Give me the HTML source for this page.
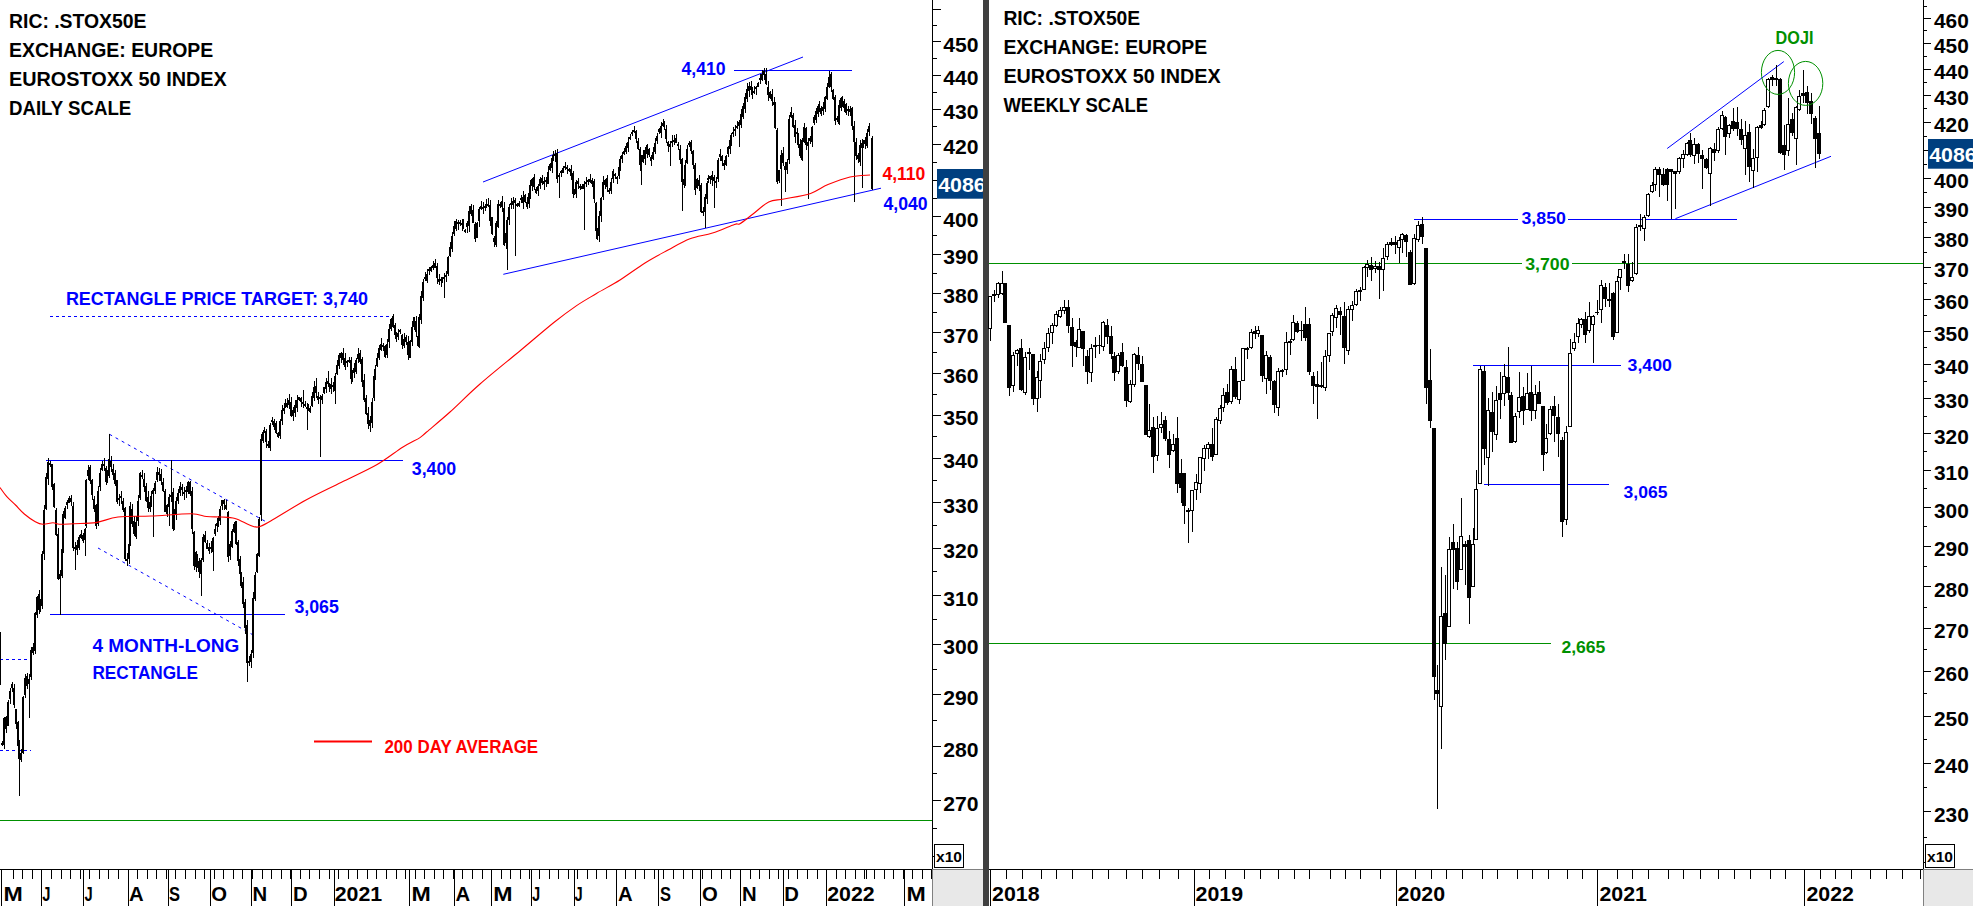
<!DOCTYPE html>
<html><head><meta charset="utf-8"><title>EUROSTOXX 50</title>
<style>html,body{margin:0;padding:0;background:#fff;overflow:hidden}svg{display:block}</style></head>
<body>
<svg width="1973" height="906" viewBox="0 0 1973 906" font-family='"Liberation Sans", sans-serif' font-weight="bold">
<rect x="0" y="0" width="1973" height="906" fill="#fff" />
<g shape-rendering="crispEdges">
<rect x="0" y="820" width="932" height="1" fill="#009000" />
<rect x="46" y="460" width="357" height="1" fill="#0000ff" />
<rect x="50" y="614" width="235" height="1" fill="#0000ff" />
<rect x="734" y="70" width="118" height="1" fill="#0000ff" />
</g>
<line x1="50" y1="316.5" x2="391" y2="316.5" stroke="#0000ff" stroke-width="1" stroke-dasharray="3 3"/>
<line x1="0" y1="659.5" x2="32" y2="659.5" stroke="#0000ff" stroke-width="1" stroke-dasharray="3 3"/>
<line x1="0" y1="750.5" x2="31" y2="750.5" stroke="#0000ff" stroke-width="1" stroke-dasharray="3 3"/>
<line x1="109.5" y1="434.3" x2="265" y2="521.2" stroke="#0000ff" stroke-width="1" stroke-dasharray="3 4"/>
<line x1="98" y1="548" x2="255" y2="636" stroke="#0000ff" stroke-width="1" stroke-dasharray="3 4"/>
<line x1="483" y1="182" x2="803" y2="57" stroke="#0000ff" stroke-width="1"/>
<line x1="503.3" y1="274.3" x2="881" y2="188.2" stroke="#0000ff" stroke-width="1"/>
<g shape-rendering="crispEdges" fill="#000">
<rect x="2" y="740.7" width="1" height="5.6"/>
<rect x="1" y="743.0" width="2" height="2.0"/>
<rect x="4" y="717.3" width="1" height="31.4"/>
<rect x="3" y="718.2" width="2" height="27.0"/>
<rect x="6" y="716.3" width="1" height="16.3"/>
<rect x="5" y="717.1" width="2" height="12.1"/>
<rect x="8" y="699.5" width="1" height="26.9"/>
<rect x="7" y="702.4" width="2" height="23.2"/>
<rect x="10" y="688.3" width="1" height="15.8"/>
<rect x="9" y="691.2" width="2" height="7.9"/>
<rect x="12" y="682.2" width="1" height="9.9"/>
<rect x="11" y="684.0" width="2" height="4.2"/>
<rect x="14" y="683.9" width="1" height="24.2"/>
<rect x="13" y="687.5" width="2" height="17.9"/>
<rect x="16" y="708.5" width="1" height="20.7"/>
<rect x="15" y="709.2" width="2" height="14.7"/>
<rect x="18" y="721.0" width="1" height="26.2"/>
<rect x="17" y="722.3" width="2" height="23.8"/>
<rect x="19" y="739.5" width="1" height="56.5"/>
<rect x="18" y="744.5" width="2" height="14.7"/>
<rect x="21" y="748.8" width="1" height="13.6"/>
<rect x="20" y="752.8" width="2" height="7.0"/>
<rect x="23" y="696.3" width="1" height="57.8"/>
<rect x="22" y="697.1" width="2" height="56.1"/>
<rect x="25" y="673.5" width="1" height="24.2"/>
<rect x="24" y="677.7" width="2" height="17.1"/>
<rect x="27" y="672.5" width="1" height="16.3"/>
<rect x="26" y="676.2" width="2" height="9.6"/>
<rect x="29" y="673.8" width="1" height="44.2"/>
<rect x="28" y="678.6" width="2" height="5.6"/>
<rect x="31" y="646.6" width="1" height="33.4"/>
<rect x="30" y="650.3" width="2" height="26.3"/>
<rect x="33" y="642.7" width="1" height="12.7"/>
<rect x="32" y="647.2" width="2" height="6.1"/>
<rect x="35" y="612.0" width="1" height="41.9"/>
<rect x="34" y="613.1" width="2" height="38.0"/>
<rect x="37" y="596.1" width="1" height="22.3"/>
<rect x="36" y="597.4" width="2" height="17.8"/>
<rect x="39" y="589.5" width="1" height="24.8"/>
<rect x="38" y="593.7" width="2" height="15.9"/>
<rect x="40" y="598.8" width="1" height="13.6"/>
<rect x="39" y="604.2" width="2" height="6.1"/>
<rect x="42" y="550.6" width="1" height="58.8"/>
<rect x="41" y="554.3" width="2" height="51.4"/>
<rect x="44" y="504.5" width="1" height="55.2"/>
<rect x="43" y="509.6" width="2" height="44.4"/>
<rect x="46" y="473.2" width="1" height="37.1"/>
<rect x="45" y="477.3" width="2" height="32.1"/>
<rect x="48" y="457.7" width="1" height="27.2"/>
<rect x="47" y="461.7" width="2" height="17.2"/>
<rect x="50" y="460.5" width="1" height="6.7"/>
<rect x="49" y="462.5" width="2" height="2.0"/>
<rect x="52" y="463.5" width="1" height="26.1"/>
<rect x="51" y="464.1" width="2" height="22.4"/>
<rect x="54" y="482.8" width="1" height="25.5"/>
<rect x="53" y="483.9" width="2" height="23.5"/>
<rect x="56" y="508.3" width="1" height="28.1"/>
<rect x="55" y="509.5" width="2" height="25.1"/>
<rect x="58" y="528.4" width="1" height="51.6"/>
<rect x="57" y="533.7" width="2" height="45.3"/>
<rect x="60" y="570.3" width="1" height="45.1"/>
<rect x="59" y="573.8" width="2" height="4.8"/>
<rect x="62" y="543.3" width="1" height="35.1"/>
<rect x="61" y="548.6" width="2" height="27.8"/>
<rect x="63" y="511.4" width="1" height="41.9"/>
<rect x="62" y="513.8" width="2" height="34.0"/>
<rect x="65" y="506.1" width="1" height="12.8"/>
<rect x="64" y="507.5" width="2" height="10.0"/>
<rect x="67" y="500.4" width="1" height="8.1"/>
<rect x="66" y="502.2" width="2" height="3.1"/>
<rect x="69" y="496.3" width="1" height="7.1"/>
<rect x="68" y="498.3" width="2" height="4.6"/>
<rect x="71" y="495.1" width="1" height="10.8"/>
<rect x="70" y="497.6" width="2" height="4.7"/>
<rect x="73" y="501.7" width="1" height="49.7"/>
<rect x="72" y="505.9" width="2" height="42.0"/>
<rect x="75" y="542.3" width="1" height="27.7"/>
<rect x="74" y="546.6" width="2" height="2.4"/>
<rect x="77" y="540.3" width="1" height="14.7"/>
<rect x="76" y="545.1" width="2" height="4.6"/>
<rect x="79" y="534.5" width="1" height="15.7"/>
<rect x="78" y="537.2" width="2" height="10.3"/>
<rect x="81" y="530.0" width="1" height="8.9"/>
<rect x="80" y="534.0" width="2" height="4.1"/>
<rect x="83" y="533.0" width="1" height="9.6"/>
<rect x="82" y="534.6" width="2" height="6.5"/>
<rect x="85" y="527.9" width="1" height="28.1"/>
<rect x="84" y="528.6" width="2" height="11.2"/>
<rect x="86" y="478.7" width="1" height="49.6"/>
<rect x="85" y="479.8" width="2" height="46.1"/>
<rect x="88" y="464.6" width="1" height="15.3"/>
<rect x="87" y="469.9" width="2" height="6.1"/>
<rect x="90" y="465.2" width="1" height="18.6"/>
<rect x="89" y="467.1" width="2" height="14.3"/>
<rect x="92" y="479.1" width="1" height="21.0"/>
<rect x="91" y="480.3" width="2" height="14.7"/>
<rect x="94" y="495.8" width="1" height="16.0"/>
<rect x="93" y="498.9" width="2" height="9.8"/>
<rect x="96" y="504.3" width="1" height="24.2"/>
<rect x="95" y="505.3" width="2" height="20.7"/>
<rect x="98" y="485.9" width="1" height="39.7"/>
<rect x="97" y="490.9" width="2" height="33.3"/>
<rect x="100" y="467.5" width="1" height="23.0"/>
<rect x="99" y="473.3" width="2" height="13.8"/>
<rect x="102" y="460.6" width="1" height="10.4"/>
<rect x="101" y="464.1" width="2" height="6.3"/>
<rect x="104" y="458.3" width="1" height="13.1"/>
<rect x="103" y="464.2" width="2" height="2.0"/>
<rect x="106" y="465.7" width="1" height="19.0"/>
<rect x="105" y="467.7" width="2" height="14.6"/>
<rect x="107" y="469.5" width="1" height="13.5"/>
<rect x="106" y="474.2" width="2" height="5.4"/>
<rect x="109" y="434.3" width="1" height="43.9"/>
<rect x="108" y="458.9" width="2" height="17.5"/>
<rect x="111" y="455.5" width="1" height="16.4"/>
<rect x="110" y="461.4" width="2" height="5.3"/>
<rect x="113" y="464.2" width="1" height="15.7"/>
<rect x="112" y="469.2" width="2" height="6.1"/>
<rect x="115" y="469.8" width="1" height="16.6"/>
<rect x="114" y="473.1" width="2" height="10.8"/>
<rect x="117" y="479.5" width="1" height="24.5"/>
<rect x="116" y="480.1" width="2" height="21.8"/>
<rect x="119" y="493.7" width="1" height="12.1"/>
<rect x="118" y="498.0" width="2" height="2.0"/>
<rect x="121" y="490.8" width="1" height="13.6"/>
<rect x="120" y="496.4" width="2" height="2.0"/>
<rect x="123" y="498.3" width="1" height="13.7"/>
<rect x="122" y="500.8" width="2" height="9.5"/>
<rect x="125" y="506.6" width="1" height="54.1"/>
<rect x="124" y="508.1" width="2" height="50.9"/>
<rect x="127" y="553.0" width="1" height="12.6"/>
<rect x="126" y="558.5" width="2" height="2.0"/>
<rect x="129" y="540.2" width="1" height="23.6"/>
<rect x="128" y="544.2" width="2" height="14.6"/>
<rect x="130" y="502.2" width="1" height="44.2"/>
<rect x="129" y="506.3" width="2" height="34.6"/>
<rect x="132" y="504.0" width="1" height="22.9"/>
<rect x="131" y="508.6" width="2" height="15.2"/>
<rect x="134" y="516.4" width="1" height="20.0"/>
<rect x="133" y="521.2" width="2" height="12.9"/>
<rect x="136" y="516.3" width="1" height="22.9"/>
<rect x="135" y="522.1" width="2" height="14.4"/>
<rect x="138" y="495.4" width="1" height="30.5"/>
<rect x="137" y="501.1" width="2" height="20.3"/>
<rect x="140" y="472.0" width="1" height="27.8"/>
<rect x="139" y="473.2" width="2" height="25.2"/>
<rect x="142" y="470.4" width="1" height="8.2"/>
<rect x="141" y="475.4" width="2" height="2.0"/>
<rect x="144" y="473.0" width="1" height="18.5"/>
<rect x="143" y="478.9" width="2" height="8.5"/>
<rect x="146" y="482.7" width="1" height="19.1"/>
<rect x="145" y="486.2" width="2" height="14.3"/>
<rect x="148" y="490.8" width="1" height="21.6"/>
<rect x="147" y="496.7" width="2" height="11.7"/>
<rect x="150" y="496.7" width="1" height="14.8"/>
<rect x="149" y="502.3" width="2" height="6.3"/>
<rect x="151" y="491.2" width="1" height="15.8"/>
<rect x="150" y="496.2" width="2" height="9.1"/>
<rect x="153" y="488.0" width="1" height="49.0"/>
<rect x="152" y="490.1" width="2" height="4.1"/>
<rect x="155" y="480.7" width="1" height="13.0"/>
<rect x="154" y="482.6" width="2" height="8.2"/>
<rect x="157" y="466.5" width="1" height="15.6"/>
<rect x="156" y="472.0" width="2" height="7.6"/>
<rect x="159" y="468.0" width="1" height="12.6"/>
<rect x="158" y="471.7" width="2" height="3.4"/>
<rect x="161" y="468.9" width="1" height="15.7"/>
<rect x="160" y="474.4" width="2" height="6.9"/>
<rect x="163" y="478.2" width="1" height="13.6"/>
<rect x="162" y="481.6" width="2" height="9.6"/>
<rect x="165" y="489.2" width="1" height="23.2"/>
<rect x="164" y="490.7" width="2" height="21.2"/>
<rect x="167" y="503.9" width="1" height="13.4"/>
<rect x="166" y="505.3" width="2" height="8.9"/>
<rect x="169" y="493.6" width="1" height="32.4"/>
<rect x="168" y="497.2" width="2" height="10.0"/>
<rect x="171" y="459.7" width="1" height="42.4"/>
<rect x="170" y="494.6" width="2" height="2.7"/>
<rect x="173" y="487.9" width="1" height="42.8"/>
<rect x="172" y="491.5" width="2" height="37.4"/>
<rect x="174" y="509.0" width="1" height="21.3"/>
<rect x="173" y="513.8" width="2" height="13.3"/>
<rect x="176" y="496.5" width="1" height="23.3"/>
<rect x="175" y="501.2" width="2" height="13.1"/>
<rect x="178" y="489.3" width="1" height="14.7"/>
<rect x="177" y="493.2" width="2" height="7.6"/>
<rect x="180" y="482.1" width="1" height="14.2"/>
<rect x="179" y="486.4" width="2" height="6.9"/>
<rect x="182" y="483.5" width="1" height="12.4"/>
<rect x="181" y="486.7" width="2" height="3.6"/>
<rect x="184" y="486.5" width="1" height="13.2"/>
<rect x="183" y="491.8" width="2" height="2.2"/>
<rect x="186" y="486.0" width="1" height="11.8"/>
<rect x="185" y="489.6" width="2" height="2.6"/>
<rect x="188" y="481.2" width="1" height="12.3"/>
<rect x="187" y="482.4" width="2" height="9.9"/>
<rect x="190" y="481.0" width="1" height="15.0"/>
<rect x="189" y="481.9" width="2" height="12.3"/>
<rect x="192" y="486.6" width="1" height="47.4"/>
<rect x="191" y="490.8" width="2" height="38.4"/>
<rect x="194" y="531.1" width="1" height="39.0"/>
<rect x="193" y="532.4" width="2" height="33.2"/>
<rect x="196" y="550.8" width="1" height="21.5"/>
<rect x="195" y="552.1" width="2" height="14.9"/>
<rect x="197" y="554.1" width="1" height="13.5"/>
<rect x="196" y="555.8" width="2" height="6.0"/>
<rect x="199" y="557.9" width="1" height="19.7"/>
<rect x="198" y="561.0" width="2" height="10.6"/>
<rect x="201" y="558.4" width="1" height="37.1"/>
<rect x="200" y="559.8" width="2" height="14.5"/>
<rect x="203" y="534.2" width="1" height="27.3"/>
<rect x="202" y="536.6" width="2" height="23.3"/>
<rect x="205" y="530.7" width="1" height="12.0"/>
<rect x="204" y="535.1" width="2" height="6.9"/>
<rect x="207" y="539.5" width="1" height="9.5"/>
<rect x="206" y="542.5" width="2" height="6.0"/>
<rect x="209" y="543.2" width="1" height="10.8"/>
<rect x="208" y="547.1" width="2" height="3.6"/>
<rect x="211" y="540.6" width="1" height="12.8"/>
<rect x="210" y="546.5" width="2" height="2.0"/>
<rect x="213" y="536.9" width="1" height="34.1"/>
<rect x="212" y="538.0" width="2" height="13.6"/>
<rect x="215" y="524.2" width="1" height="12.1"/>
<rect x="214" y="529.0" width="2" height="5.3"/>
<rect x="217" y="520.5" width="1" height="11.0"/>
<rect x="216" y="523.3" width="2" height="2.7"/>
<rect x="218" y="515.7" width="1" height="11.5"/>
<rect x="217" y="517.6" width="2" height="8.2"/>
<rect x="220" y="505.6" width="1" height="19.8"/>
<rect x="219" y="509.2" width="2" height="11.8"/>
<rect x="222" y="499.6" width="1" height="10.6"/>
<rect x="221" y="500.4" width="2" height="5.5"/>
<rect x="224" y="498.9" width="1" height="10.8"/>
<rect x="223" y="499.8" width="2" height="4.2"/>
<rect x="226" y="500.2" width="1" height="9.8"/>
<rect x="225" y="505.1" width="2" height="3.9"/>
<rect x="228" y="511.0" width="1" height="50.9"/>
<rect x="227" y="511.9" width="2" height="44.7"/>
<rect x="230" y="541.3" width="1" height="18.6"/>
<rect x="229" y="543.6" width="2" height="12.6"/>
<rect x="232" y="529.3" width="1" height="19.0"/>
<rect x="231" y="531.3" width="2" height="15.8"/>
<rect x="234" y="522.2" width="1" height="10.4"/>
<rect x="233" y="524.0" width="2" height="7.5"/>
<rect x="236" y="520.5" width="1" height="24.8"/>
<rect x="235" y="521.3" width="2" height="22.4"/>
<rect x="238" y="540.0" width="1" height="25.7"/>
<rect x="237" y="542.2" width="2" height="18.8"/>
<rect x="240" y="556.1" width="1" height="18.8"/>
<rect x="239" y="559.4" width="2" height="14.1"/>
<rect x="241" y="571.6" width="1" height="16.1"/>
<rect x="240" y="572.2" width="2" height="13.6"/>
<rect x="243" y="577.4" width="1" height="30.1"/>
<rect x="242" y="582.0" width="2" height="22.1"/>
<rect x="245" y="598.5" width="1" height="35.6"/>
<rect x="244" y="601.6" width="2" height="26.8"/>
<rect x="247" y="620.2" width="1" height="61.8"/>
<rect x="246" y="625.2" width="2" height="37.3"/>
<rect x="249" y="656.2" width="1" height="9.8"/>
<rect x="248" y="661.3" width="2" height="2.0"/>
<rect x="251" y="650.1" width="1" height="17.9"/>
<rect x="250" y="654.4" width="2" height="7.7"/>
<rect x="253" y="592.4" width="1" height="65.1"/>
<rect x="252" y="597.5" width="2" height="55.7"/>
<rect x="255" y="572.4" width="1" height="28.5"/>
<rect x="254" y="575.2" width="2" height="23.4"/>
<rect x="257" y="552.6" width="1" height="19.9"/>
<rect x="256" y="553.8" width="2" height="17.8"/>
<rect x="259" y="516.7" width="1" height="40.4"/>
<rect x="258" y="518.6" width="2" height="37.1"/>
<rect x="261" y="434.2" width="1" height="86.4"/>
<rect x="260" y="439.4" width="2" height="75.9"/>
<rect x="263" y="429.6" width="1" height="13.0"/>
<rect x="262" y="431.6" width="2" height="9.1"/>
<rect x="264" y="426.5" width="1" height="6.4"/>
<rect x="263" y="429.6" width="2" height="2.0"/>
<rect x="266" y="428.7" width="1" height="19.2"/>
<rect x="265" y="430.7" width="2" height="11.4"/>
<rect x="268" y="440.7" width="1" height="7.4"/>
<rect x="267" y="444.2" width="2" height="2.0"/>
<rect x="270" y="423.2" width="1" height="27.5"/>
<rect x="269" y="425.4" width="2" height="22.9"/>
<rect x="272" y="417.4" width="1" height="7.7"/>
<rect x="271" y="420.0" width="2" height="2.0"/>
<rect x="274" y="419.0" width="1" height="11.2"/>
<rect x="273" y="420.6" width="2" height="6.4"/>
<rect x="276" y="421.0" width="1" height="13.3"/>
<rect x="275" y="423.0" width="2" height="10.3"/>
<rect x="278" y="431.8" width="1" height="6.0"/>
<rect x="277" y="432.5" width="2" height="4.6"/>
<rect x="280" y="419.1" width="1" height="20.3"/>
<rect x="279" y="420.8" width="2" height="14.8"/>
<rect x="282" y="405.1" width="1" height="20.1"/>
<rect x="281" y="409.7" width="2" height="11.4"/>
<rect x="284" y="402.8" width="1" height="11.2"/>
<rect x="283" y="408.2" width="2" height="3.2"/>
<rect x="285" y="399.1" width="1" height="9.2"/>
<rect x="284" y="405.0" width="2" height="2.0"/>
<rect x="287" y="398.4" width="1" height="9.4"/>
<rect x="286" y="402.5" width="2" height="4.6"/>
<rect x="289" y="394.2" width="1" height="14.9"/>
<rect x="288" y="399.6" width="2" height="5.5"/>
<rect x="291" y="396.5" width="1" height="20.6"/>
<rect x="290" y="401.5" width="2" height="14.4"/>
<rect x="293" y="407.1" width="1" height="14.0"/>
<rect x="292" y="410.4" width="2" height="5.6"/>
<rect x="295" y="399.9" width="1" height="16.6"/>
<rect x="294" y="405.0" width="2" height="7.9"/>
<rect x="297" y="395.3" width="1" height="17.1"/>
<rect x="296" y="399.5" width="2" height="8.6"/>
<rect x="299" y="396.7" width="1" height="4.0"/>
<rect x="298" y="397.4" width="2" height="2.1"/>
<rect x="301" y="397.3" width="1" height="9.3"/>
<rect x="300" y="398.4" width="2" height="3.2"/>
<rect x="303" y="390.4" width="1" height="17.3"/>
<rect x="302" y="401.8" width="2" height="2.0"/>
<rect x="305" y="401.2" width="1" height="5.7"/>
<rect x="304" y="404.4" width="2" height="2.0"/>
<rect x="307" y="402.5" width="1" height="27.5"/>
<rect x="306" y="407.2" width="2" height="2.0"/>
<rect x="308" y="404.3" width="1" height="7.1"/>
<rect x="307" y="408.4" width="2" height="2.1"/>
<rect x="310" y="405.7" width="1" height="7.7"/>
<rect x="309" y="407.5" width="2" height="4.9"/>
<rect x="312" y="391.7" width="1" height="15.6"/>
<rect x="311" y="396.2" width="2" height="9.4"/>
<rect x="314" y="380.8" width="1" height="20.6"/>
<rect x="313" y="386.6" width="2" height="11.5"/>
<rect x="316" y="378.0" width="1" height="19.6"/>
<rect x="315" y="385.7" width="2" height="7.6"/>
<rect x="318" y="391.6" width="1" height="12.4"/>
<rect x="317" y="395.5" width="2" height="4.5"/>
<rect x="320" y="395.2" width="1" height="61.4"/>
<rect x="319" y="396.5" width="2" height="2.0"/>
<rect x="322" y="394.2" width="1" height="9.8"/>
<rect x="321" y="396.4" width="2" height="4.0"/>
<rect x="324" y="386.5" width="1" height="7.9"/>
<rect x="323" y="387.4" width="2" height="5.1"/>
<rect x="326" y="377.9" width="1" height="15.0"/>
<rect x="325" y="382.2" width="2" height="6.5"/>
<rect x="328" y="370.5" width="1" height="16.9"/>
<rect x="327" y="380.6" width="2" height="3.8"/>
<rect x="329" y="382.9" width="1" height="8.9"/>
<rect x="328" y="384.0" width="2" height="2.4"/>
<rect x="331" y="378.1" width="1" height="16.0"/>
<rect x="330" y="384.0" width="2" height="4.5"/>
<rect x="333" y="381.6" width="1" height="10.4"/>
<rect x="332" y="384.6" width="2" height="2.4"/>
<rect x="335" y="373.1" width="1" height="30.5"/>
<rect x="334" y="376.1" width="2" height="14.7"/>
<rect x="337" y="359.5" width="1" height="15.9"/>
<rect x="336" y="365.2" width="2" height="8.6"/>
<rect x="339" y="353.4" width="1" height="15.8"/>
<rect x="338" y="354.6" width="2" height="11.2"/>
<rect x="341" y="351.9" width="1" height="11.4"/>
<rect x="340" y="353.1" width="2" height="5.2"/>
<rect x="343" y="347.8" width="1" height="16.8"/>
<rect x="342" y="353.2" width="2" height="7.0"/>
<rect x="345" y="352.6" width="1" height="17.8"/>
<rect x="344" y="358.1" width="2" height="9.2"/>
<rect x="347" y="360.0" width="1" height="6.7"/>
<rect x="346" y="360.5" width="2" height="2.9"/>
<rect x="349" y="357.3" width="1" height="5.4"/>
<rect x="348" y="359.5" width="2" height="2.0"/>
<rect x="351" y="357.3" width="1" height="26.2"/>
<rect x="350" y="359.6" width="2" height="18.9"/>
<rect x="352" y="369.8" width="1" height="11.7"/>
<rect x="351" y="374.4" width="2" height="2.0"/>
<rect x="354" y="362.6" width="1" height="15.1"/>
<rect x="353" y="368.2" width="2" height="5.1"/>
<rect x="356" y="358.0" width="1" height="16.0"/>
<rect x="355" y="360.1" width="2" height="11.4"/>
<rect x="358" y="347.7" width="1" height="15.3"/>
<rect x="357" y="353.7" width="2" height="5.5"/>
<rect x="360" y="349.7" width="1" height="14.4"/>
<rect x="359" y="352.6" width="2" height="9.5"/>
<rect x="362" y="357.4" width="1" height="29.1"/>
<rect x="361" y="358.5" width="2" height="23.0"/>
<rect x="364" y="374.1" width="1" height="27.5"/>
<rect x="363" y="379.8" width="2" height="19.9"/>
<rect x="366" y="394.5" width="1" height="20.5"/>
<rect x="365" y="397.8" width="2" height="15.7"/>
<rect x="368" y="406.7" width="1" height="22.4"/>
<rect x="367" y="412.5" width="2" height="11.3"/>
<rect x="370" y="415.8" width="1" height="16.0"/>
<rect x="369" y="419.8" width="2" height="6.5"/>
<rect x="372" y="398.2" width="1" height="29.5"/>
<rect x="371" y="401.7" width="2" height="21.5"/>
<rect x="374" y="371.1" width="1" height="30.0"/>
<rect x="373" y="375.6" width="2" height="22.5"/>
<rect x="375" y="365.2" width="1" height="14.5"/>
<rect x="374" y="369.2" width="2" height="8.4"/>
<rect x="377" y="352.8" width="1" height="14.1"/>
<rect x="376" y="358.4" width="2" height="7.3"/>
<rect x="379" y="345.2" width="1" height="15.1"/>
<rect x="378" y="347.6" width="2" height="10.6"/>
<rect x="381" y="338.4" width="1" height="13.0"/>
<rect x="380" y="344.3" width="2" height="5.2"/>
<rect x="383" y="343.0" width="1" height="7.7"/>
<rect x="382" y="345.2" width="2" height="2.0"/>
<rect x="385" y="344.6" width="1" height="13.6"/>
<rect x="384" y="346.0" width="2" height="10.8"/>
<rect x="387" y="338.5" width="1" height="19.2"/>
<rect x="386" y="344.0" width="2" height="10.5"/>
<rect x="389" y="323.8" width="1" height="23.9"/>
<rect x="388" y="329.3" width="2" height="12.4"/>
<rect x="391" y="318.2" width="1" height="12.3"/>
<rect x="390" y="319.4" width="2" height="9.5"/>
<rect x="393" y="313.8" width="1" height="14.4"/>
<rect x="392" y="316.1" width="2" height="11.1"/>
<rect x="395" y="323.2" width="1" height="15.4"/>
<rect x="394" y="325.1" width="2" height="9.9"/>
<rect x="396" y="332.2" width="1" height="9.4"/>
<rect x="395" y="336.8" width="2" height="2.0"/>
<rect x="398" y="329.3" width="1" height="10.2"/>
<rect x="397" y="332.7" width="2" height="4.2"/>
<rect x="400" y="329.3" width="1" height="4.9"/>
<rect x="399" y="330.2" width="2" height="2.0"/>
<rect x="402" y="333.5" width="1" height="15.0"/>
<rect x="401" y="334.7" width="2" height="10.6"/>
<rect x="404" y="333.4" width="1" height="14.6"/>
<rect x="403" y="338.6" width="2" height="7.6"/>
<rect x="406" y="334.9" width="1" height="10.1"/>
<rect x="405" y="336.8" width="2" height="5.5"/>
<rect x="408" y="336.2" width="1" height="23.6"/>
<rect x="407" y="341.9" width="2" height="12.7"/>
<rect x="410" y="340.1" width="1" height="18.2"/>
<rect x="409" y="340.7" width="2" height="16.9"/>
<rect x="412" y="321.3" width="1" height="24.2"/>
<rect x="411" y="326.7" width="2" height="15.6"/>
<rect x="414" y="316.8" width="1" height="13.2"/>
<rect x="413" y="317.3" width="2" height="10.1"/>
<rect x="416" y="315.7" width="1" height="21.2"/>
<rect x="415" y="320.7" width="2" height="10.9"/>
<rect x="418" y="333.6" width="1" height="13.5"/>
<rect x="417" y="335.5" width="2" height="10.6"/>
<rect x="419" y="313.5" width="1" height="34.1"/>
<rect x="418" y="316.8" width="2" height="26.4"/>
<rect x="421" y="291.1" width="1" height="33.3"/>
<rect x="420" y="295.6" width="2" height="24.8"/>
<rect x="423" y="278.9" width="1" height="22.4"/>
<rect x="422" y="281.9" width="2" height="15.8"/>
<rect x="425" y="272.1" width="1" height="8.6"/>
<rect x="424" y="276.9" width="2" height="2.0"/>
<rect x="427" y="269.4" width="1" height="13.8"/>
<rect x="426" y="273.5" width="2" height="7.6"/>
<rect x="429" y="267.2" width="1" height="7.9"/>
<rect x="428" y="269.1" width="2" height="2.0"/>
<rect x="431" y="266.2" width="1" height="5.9"/>
<rect x="430" y="267.3" width="2" height="3.9"/>
<rect x="433" y="261.4" width="1" height="8.8"/>
<rect x="432" y="265.1" width="2" height="2.5"/>
<rect x="435" y="259.0" width="1" height="9.3"/>
<rect x="434" y="262.9" width="2" height="4.9"/>
<rect x="437" y="263.2" width="1" height="20.7"/>
<rect x="436" y="266.2" width="2" height="11.9"/>
<rect x="439" y="273.9" width="1" height="10.9"/>
<rect x="438" y="279.2" width="2" height="2.4"/>
<rect x="441" y="277.0" width="1" height="9.6"/>
<rect x="440" y="278.9" width="2" height="2.0"/>
<rect x="442" y="276.6" width="1" height="5.9"/>
<rect x="441" y="278.8" width="2" height="3.1"/>
<rect x="444" y="272.9" width="1" height="25.1"/>
<rect x="443" y="277.1" width="2" height="2.0"/>
<rect x="446" y="270.5" width="1" height="11.8"/>
<rect x="445" y="274.7" width="2" height="2.0"/>
<rect x="448" y="255.8" width="1" height="20.2"/>
<rect x="447" y="256.5" width="2" height="17.2"/>
<rect x="450" y="242.2" width="1" height="15.2"/>
<rect x="449" y="246.5" width="2" height="9.4"/>
<rect x="452" y="231.9" width="1" height="20.3"/>
<rect x="451" y="236.4" width="2" height="12.4"/>
<rect x="454" y="220.5" width="1" height="15.8"/>
<rect x="453" y="226.4" width="2" height="7.7"/>
<rect x="456" y="219.4" width="1" height="11.3"/>
<rect x="455" y="221.1" width="2" height="7.8"/>
<rect x="458" y="219.7" width="1" height="9.9"/>
<rect x="457" y="221.8" width="2" height="2.0"/>
<rect x="460" y="220.4" width="1" height="5.3"/>
<rect x="459" y="222.0" width="2" height="2.0"/>
<rect x="462" y="218.7" width="1" height="11.9"/>
<rect x="461" y="222.9" width="2" height="2.0"/>
<rect x="463" y="219.4" width="1" height="10.0"/>
<rect x="462" y="222.0" width="2" height="5.7"/>
<rect x="465" y="228.8" width="1" height="4.1"/>
<rect x="464" y="230.1" width="2" height="2.0"/>
<rect x="467" y="220.6" width="1" height="12.0"/>
<rect x="466" y="223.3" width="2" height="3.9"/>
<rect x="469" y="206.3" width="1" height="26.0"/>
<rect x="468" y="210.9" width="2" height="15.5"/>
<rect x="471" y="204.1" width="1" height="11.7"/>
<rect x="470" y="206.4" width="2" height="7.9"/>
<rect x="473" y="205.3" width="1" height="18.1"/>
<rect x="472" y="209.9" width="2" height="12.8"/>
<rect x="475" y="221.5" width="1" height="20.1"/>
<rect x="474" y="224.0" width="2" height="15.0"/>
<rect x="477" y="221.6" width="1" height="16.6"/>
<rect x="476" y="223.0" width="2" height="14.7"/>
<rect x="479" y="207.0" width="1" height="20.0"/>
<rect x="478" y="209.4" width="2" height="11.8"/>
<rect x="481" y="200.6" width="1" height="9.7"/>
<rect x="480" y="206.4" width="2" height="2.3"/>
<rect x="483" y="201.7" width="1" height="12.0"/>
<rect x="482" y="206.7" width="2" height="2.0"/>
<rect x="485" y="205.3" width="1" height="5.9"/>
<rect x="484" y="206.1" width="2" height="2.0"/>
<rect x="486" y="198.7" width="1" height="9.1"/>
<rect x="485" y="204.3" width="2" height="2.0"/>
<rect x="488" y="198.2" width="1" height="8.3"/>
<rect x="487" y="203.6" width="2" height="2.2"/>
<rect x="490" y="200.1" width="1" height="25.6"/>
<rect x="489" y="205.1" width="2" height="15.9"/>
<rect x="492" y="216.6" width="1" height="18.4"/>
<rect x="491" y="217.3" width="2" height="16.8"/>
<rect x="494" y="235.6" width="1" height="11.1"/>
<rect x="493" y="237.5" width="2" height="4.5"/>
<rect x="496" y="220.5" width="1" height="26.7"/>
<rect x="495" y="222.9" width="2" height="22.3"/>
<rect x="498" y="199.8" width="1" height="28.6"/>
<rect x="497" y="203.7" width="2" height="22.8"/>
<rect x="500" y="201.9" width="1" height="6.3"/>
<rect x="499" y="204.1" width="2" height="2.0"/>
<rect x="502" y="196.1" width="1" height="16.0"/>
<rect x="501" y="200.8" width="2" height="5.8"/>
<rect x="504" y="202.0" width="1" height="43.5"/>
<rect x="503" y="207.7" width="2" height="37.2"/>
<rect x="506" y="230.0" width="1" height="18.5"/>
<rect x="505" y="233.1" width="2" height="9.6"/>
<rect x="507" y="217.4" width="1" height="52.6"/>
<rect x="506" y="220.1" width="2" height="16.7"/>
<rect x="509" y="203.8" width="1" height="21.3"/>
<rect x="508" y="207.0" width="2" height="12.5"/>
<rect x="511" y="197.6" width="1" height="11.5"/>
<rect x="510" y="202.5" width="2" height="2.0"/>
<rect x="513" y="196.5" width="1" height="12.5"/>
<rect x="512" y="201.3" width="2" height="3.9"/>
<rect x="515" y="197.7" width="1" height="58.3"/>
<rect x="514" y="199.9" width="2" height="2.9"/>
<rect x="517" y="202.7" width="1" height="4.5"/>
<rect x="516" y="203.7" width="2" height="2.0"/>
<rect x="519" y="201.2" width="1" height="6.0"/>
<rect x="518" y="203.0" width="2" height="3.3"/>
<rect x="521" y="194.7" width="1" height="7.8"/>
<rect x="520" y="198.3" width="2" height="2.0"/>
<rect x="523" y="191.4" width="1" height="17.6"/>
<rect x="522" y="196.8" width="2" height="6.3"/>
<rect x="525" y="193.9" width="1" height="8.7"/>
<rect x="524" y="194.9" width="2" height="6.7"/>
<rect x="527" y="197.2" width="1" height="12.2"/>
<rect x="526" y="201.6" width="2" height="4.9"/>
<rect x="529" y="190.0" width="1" height="18.2"/>
<rect x="528" y="192.8" width="2" height="11.5"/>
<rect x="530" y="179.8" width="1" height="19.5"/>
<rect x="529" y="184.5" width="2" height="9.8"/>
<rect x="532" y="177.9" width="1" height="13.0"/>
<rect x="531" y="179.0" width="2" height="6.7"/>
<rect x="534" y="173.8" width="1" height="15.8"/>
<rect x="533" y="177.4" width="2" height="9.6"/>
<rect x="536" y="187.3" width="1" height="7.1"/>
<rect x="535" y="188.9" width="2" height="3.6"/>
<rect x="538" y="184.4" width="1" height="11.5"/>
<rect x="537" y="185.7" width="2" height="4.8"/>
<rect x="540" y="176.6" width="1" height="12.4"/>
<rect x="539" y="178.9" width="2" height="7.5"/>
<rect x="542" y="175.0" width="1" height="9.6"/>
<rect x="541" y="178.3" width="2" height="4.5"/>
<rect x="544" y="176.7" width="1" height="13.4"/>
<rect x="543" y="180.8" width="2" height="3.4"/>
<rect x="546" y="176.7" width="1" height="10.1"/>
<rect x="545" y="179.8" width="2" height="2.0"/>
<rect x="548" y="166.0" width="1" height="18.2"/>
<rect x="547" y="171.5" width="2" height="12.0"/>
<rect x="550" y="162.9" width="1" height="8.5"/>
<rect x="549" y="164.0" width="2" height="5.8"/>
<rect x="552" y="154.7" width="1" height="18.7"/>
<rect x="551" y="158.4" width="2" height="9.4"/>
<rect x="553" y="151.0" width="1" height="10.2"/>
<rect x="552" y="156.2" width="2" height="2.0"/>
<rect x="555" y="149.6" width="1" height="12.5"/>
<rect x="554" y="154.4" width="2" height="2.0"/>
<rect x="557" y="148.7" width="1" height="34.6"/>
<rect x="556" y="152.5" width="2" height="26.9"/>
<rect x="559" y="172.8" width="1" height="24.7"/>
<rect x="558" y="175.4" width="2" height="2.0"/>
<rect x="561" y="169.5" width="1" height="7.7"/>
<rect x="560" y="171.4" width="2" height="2.0"/>
<rect x="563" y="166.1" width="1" height="7.3"/>
<rect x="562" y="167.7" width="2" height="5.1"/>
<rect x="565" y="162.1" width="1" height="7.8"/>
<rect x="564" y="166.3" width="2" height="2.0"/>
<rect x="567" y="165.2" width="1" height="8.6"/>
<rect x="566" y="166.8" width="2" height="2.1"/>
<rect x="569" y="167.6" width="1" height="3.9"/>
<rect x="568" y="168.5" width="2" height="2.0"/>
<rect x="571" y="165.2" width="1" height="14.8"/>
<rect x="570" y="168.7" width="2" height="7.3"/>
<rect x="573" y="171.4" width="1" height="26.5"/>
<rect x="572" y="172.8" width="2" height="20.8"/>
<rect x="574" y="188.6" width="1" height="6.4"/>
<rect x="573" y="190.7" width="2" height="2.2"/>
<rect x="576" y="179.7" width="1" height="18.2"/>
<rect x="575" y="181.9" width="2" height="12.4"/>
<rect x="578" y="178.0" width="1" height="11.3"/>
<rect x="577" y="180.8" width="2" height="3.3"/>
<rect x="580" y="183.9" width="1" height="6.1"/>
<rect x="579" y="186.4" width="2" height="2.0"/>
<rect x="582" y="183.9" width="1" height="5.3"/>
<rect x="581" y="185.5" width="2" height="3.1"/>
<rect x="584" y="181.4" width="1" height="48.1"/>
<rect x="583" y="184.2" width="2" height="4.5"/>
<rect x="586" y="176.9" width="1" height="10.4"/>
<rect x="585" y="182.2" width="2" height="2.0"/>
<rect x="588" y="179.1" width="1" height="6.1"/>
<rect x="587" y="179.7" width="2" height="2.0"/>
<rect x="590" y="173.7" width="1" height="9.6"/>
<rect x="589" y="179.2" width="2" height="3.1"/>
<rect x="592" y="177.7" width="1" height="9.4"/>
<rect x="591" y="180.2" width="2" height="3.6"/>
<rect x="594" y="178.9" width="1" height="23.9"/>
<rect x="593" y="181.0" width="2" height="18.4"/>
<rect x="596" y="201.7" width="1" height="32.4"/>
<rect x="595" y="202.8" width="2" height="28.1"/>
<rect x="597" y="227.5" width="1" height="12.8"/>
<rect x="596" y="233.3" width="2" height="5.4"/>
<rect x="599" y="210.7" width="1" height="30.9"/>
<rect x="598" y="216.4" width="2" height="19.4"/>
<rect x="601" y="196.7" width="1" height="25.2"/>
<rect x="600" y="197.5" width="2" height="18.8"/>
<rect x="603" y="176.4" width="1" height="24.0"/>
<rect x="602" y="181.9" width="2" height="14.7"/>
<rect x="605" y="178.6" width="1" height="10.7"/>
<rect x="604" y="180.0" width="2" height="4.5"/>
<rect x="607" y="175.0" width="1" height="17.3"/>
<rect x="606" y="177.8" width="2" height="9.4"/>
<rect x="609" y="188.3" width="1" height="5.6"/>
<rect x="608" y="189.8" width="2" height="2.4"/>
<rect x="611" y="178.4" width="1" height="15.6"/>
<rect x="610" y="181.7" width="2" height="9.7"/>
<rect x="613" y="169.4" width="1" height="13.8"/>
<rect x="612" y="171.3" width="2" height="7.4"/>
<rect x="615" y="173.0" width="1" height="6.3"/>
<rect x="614" y="173.7" width="2" height="2.0"/>
<rect x="617" y="176.2" width="1" height="7.8"/>
<rect x="616" y="176.9" width="2" height="2.0"/>
<rect x="619" y="163.4" width="1" height="15.9"/>
<rect x="618" y="167.2" width="2" height="8.5"/>
<rect x="620" y="156.4" width="1" height="14.7"/>
<rect x="619" y="158.6" width="2" height="9.7"/>
<rect x="622" y="151.9" width="1" height="11.4"/>
<rect x="621" y="154.8" width="2" height="4.4"/>
<rect x="624" y="148.0" width="1" height="7.0"/>
<rect x="623" y="150.9" width="2" height="3.5"/>
<rect x="626" y="143.2" width="1" height="10.5"/>
<rect x="625" y="146.4" width="2" height="5.5"/>
<rect x="628" y="137.1" width="1" height="14.5"/>
<rect x="627" y="141.8" width="2" height="6.6"/>
<rect x="630" y="134.2" width="1" height="6.2"/>
<rect x="629" y="137.3" width="2" height="2.0"/>
<rect x="632" y="129.6" width="1" height="5.9"/>
<rect x="631" y="132.4" width="2" height="2.0"/>
<rect x="634" y="126.2" width="1" height="6.7"/>
<rect x="633" y="129.5" width="2" height="2.6"/>
<rect x="636" y="129.6" width="1" height="13.8"/>
<rect x="635" y="130.6" width="2" height="8.3"/>
<rect x="638" y="137.8" width="1" height="12.2"/>
<rect x="637" y="141.1" width="2" height="8.1"/>
<rect x="640" y="146.6" width="1" height="24.0"/>
<rect x="639" y="149.2" width="2" height="15.7"/>
<rect x="641" y="154.8" width="1" height="29.8"/>
<rect x="640" y="160.0" width="2" height="2.0"/>
<rect x="643" y="150.2" width="1" height="13.2"/>
<rect x="642" y="155.2" width="2" height="6.7"/>
<rect x="645" y="147.1" width="1" height="17.8"/>
<rect x="644" y="150.3" width="2" height="8.8"/>
<rect x="647" y="143.8" width="1" height="14.6"/>
<rect x="646" y="145.2" width="2" height="8.4"/>
<rect x="649" y="147.8" width="1" height="9.4"/>
<rect x="648" y="148.7" width="2" height="6.1"/>
<rect x="651" y="155.4" width="1" height="10.6"/>
<rect x="650" y="156.8" width="2" height="3.8"/>
<rect x="653" y="146.9" width="1" height="13.1"/>
<rect x="652" y="151.9" width="2" height="6.9"/>
<rect x="655" y="137.7" width="1" height="15.9"/>
<rect x="654" y="143.3" width="2" height="8.7"/>
<rect x="657" y="132.8" width="1" height="10.8"/>
<rect x="656" y="136.1" width="2" height="5.3"/>
<rect x="659" y="127.5" width="1" height="6.3"/>
<rect x="658" y="129.0" width="2" height="3.4"/>
<rect x="661" y="121.8" width="1" height="16.1"/>
<rect x="660" y="126.0" width="2" height="6.5"/>
<rect x="663" y="118.5" width="1" height="8.6"/>
<rect x="662" y="123.3" width="2" height="2.7"/>
<rect x="664" y="121.1" width="1" height="8.5"/>
<rect x="663" y="125.1" width="2" height="2.0"/>
<rect x="666" y="125.4" width="1" height="17.2"/>
<rect x="665" y="129.0" width="2" height="10.0"/>
<rect x="668" y="140.9" width="1" height="11.0"/>
<rect x="667" y="142.0" width="2" height="3.9"/>
<rect x="670" y="141.4" width="1" height="24.6"/>
<rect x="669" y="144.1" width="2" height="2.9"/>
<rect x="672" y="135.2" width="1" height="11.6"/>
<rect x="671" y="141.2" width="2" height="2.0"/>
<rect x="674" y="135.2" width="1" height="9.6"/>
<rect x="673" y="139.9" width="2" height="2.0"/>
<rect x="676" y="133.5" width="1" height="9.9"/>
<rect x="675" y="138.1" width="2" height="4.5"/>
<rect x="678" y="142.0" width="1" height="7.9"/>
<rect x="677" y="143.9" width="2" height="2.0"/>
<rect x="680" y="144.8" width="1" height="19.6"/>
<rect x="679" y="148.5" width="2" height="11.7"/>
<rect x="682" y="158.2" width="1" height="52.8"/>
<rect x="681" y="158.7" width="2" height="23.4"/>
<rect x="684" y="175.4" width="1" height="12.4"/>
<rect x="683" y="179.3" width="2" height="5.6"/>
<rect x="685" y="159.7" width="1" height="26.5"/>
<rect x="684" y="165.2" width="2" height="19.8"/>
<rect x="687" y="145.3" width="1" height="18.3"/>
<rect x="686" y="149.4" width="2" height="13.6"/>
<rect x="689" y="140.9" width="1" height="5.7"/>
<rect x="688" y="143.3" width="2" height="2.1"/>
<rect x="691" y="140.4" width="1" height="14.0"/>
<rect x="690" y="142.2" width="2" height="8.6"/>
<rect x="693" y="149.8" width="1" height="18.9"/>
<rect x="692" y="151.4" width="2" height="13.4"/>
<rect x="695" y="163.4" width="1" height="31.8"/>
<rect x="694" y="164.6" width="2" height="24.9"/>
<rect x="697" y="177.8" width="1" height="10.7"/>
<rect x="696" y="179.1" width="2" height="8.4"/>
<rect x="699" y="174.9" width="1" height="15.7"/>
<rect x="698" y="180.2" width="2" height="5.6"/>
<rect x="701" y="183.1" width="1" height="29.4"/>
<rect x="700" y="185.0" width="2" height="26.9"/>
<rect x="703" y="207.0" width="1" height="8.6"/>
<rect x="702" y="210.5" width="2" height="2.6"/>
<rect x="705" y="193.9" width="1" height="33.8"/>
<rect x="704" y="196.9" width="2" height="14.8"/>
<rect x="707" y="181.3" width="1" height="22.9"/>
<rect x="706" y="183.2" width="2" height="15.5"/>
<rect x="708" y="174.6" width="1" height="8.2"/>
<rect x="707" y="178.0" width="2" height="2.0"/>
<rect x="710" y="175.6" width="1" height="8.0"/>
<rect x="709" y="176.4" width="2" height="2.4"/>
<rect x="712" y="171.4" width="1" height="14.2"/>
<rect x="711" y="174.9" width="2" height="5.0"/>
<rect x="714" y="175.4" width="1" height="32.4"/>
<rect x="713" y="177.0" width="2" height="4.0"/>
<rect x="716" y="176.5" width="1" height="11.0"/>
<rect x="715" y="180.5" width="2" height="2.0"/>
<rect x="718" y="157.9" width="1" height="23.7"/>
<rect x="717" y="160.1" width="2" height="19.3"/>
<rect x="720" y="148.6" width="1" height="12.7"/>
<rect x="719" y="154.0" width="2" height="2.5"/>
<rect x="722" y="155.1" width="1" height="11.0"/>
<rect x="721" y="155.7" width="2" height="5.3"/>
<rect x="724" y="159.9" width="1" height="10.3"/>
<rect x="723" y="163.0" width="2" height="2.7"/>
<rect x="726" y="154.5" width="1" height="11.8"/>
<rect x="725" y="156.3" width="2" height="9.0"/>
<rect x="728" y="146.2" width="1" height="10.3"/>
<rect x="727" y="146.9" width="2" height="7.2"/>
<rect x="730" y="136.0" width="1" height="18.0"/>
<rect x="729" y="140.4" width="2" height="8.6"/>
<rect x="731" y="132.6" width="1" height="13.0"/>
<rect x="730" y="134.5" width="2" height="7.5"/>
<rect x="733" y="126.6" width="1" height="10.8"/>
<rect x="732" y="131.5" width="2" height="2.6"/>
<rect x="735" y="124.5" width="1" height="11.8"/>
<rect x="734" y="128.6" width="2" height="2.0"/>
<rect x="737" y="121.1" width="1" height="7.9"/>
<rect x="736" y="126.4" width="2" height="2.0"/>
<rect x="739" y="120.0" width="1" height="27.0"/>
<rect x="738" y="121.8" width="2" height="3.9"/>
<rect x="741" y="109.4" width="1" height="18.2"/>
<rect x="740" y="114.0" width="2" height="11.3"/>
<rect x="743" y="103.3" width="1" height="15.6"/>
<rect x="742" y="105.6" width="2" height="11.5"/>
<rect x="745" y="93.2" width="1" height="20.0"/>
<rect x="744" y="97.1" width="2" height="11.7"/>
<rect x="747" y="82.8" width="1" height="18.8"/>
<rect x="746" y="88.7" width="2" height="9.8"/>
<rect x="749" y="81.6" width="1" height="14.9"/>
<rect x="748" y="86.0" width="2" height="5.4"/>
<rect x="751" y="81.0" width="1" height="13.0"/>
<rect x="750" y="85.5" width="2" height="4.9"/>
<rect x="752" y="87.2" width="1" height="11.5"/>
<rect x="751" y="88.9" width="2" height="6.0"/>
<rect x="754" y="85.5" width="1" height="8.8"/>
<rect x="753" y="91.0" width="2" height="2.0"/>
<rect x="756" y="86.3" width="1" height="8.7"/>
<rect x="755" y="87.4" width="2" height="2.0"/>
<rect x="758" y="82.1" width="1" height="5.3"/>
<rect x="757" y="83.4" width="2" height="3.4"/>
<rect x="760" y="73.9" width="1" height="10.3"/>
<rect x="759" y="78.2" width="2" height="2.0"/>
<rect x="762" y="69.5" width="1" height="11.7"/>
<rect x="761" y="74.1" width="2" height="6.2"/>
<rect x="764" y="68.4" width="1" height="11.3"/>
<rect x="763" y="70.9" width="2" height="3.8"/>
<rect x="766" y="68.1" width="1" height="16.4"/>
<rect x="765" y="73.5" width="2" height="10.1"/>
<rect x="768" y="81.0" width="1" height="19.9"/>
<rect x="767" y="86.6" width="2" height="8.7"/>
<rect x="770" y="90.5" width="1" height="8.5"/>
<rect x="769" y="92.1" width="2" height="5.7"/>
<rect x="772" y="89.0" width="1" height="16.8"/>
<rect x="771" y="94.1" width="2" height="6.7"/>
<rect x="774" y="96.9" width="1" height="31.1"/>
<rect x="773" y="101.9" width="2" height="2.6"/>
<rect x="775" y="101.8" width="1" height="27.0"/>
<rect x="774" y="102.8" width="2" height="24.9"/>
<rect x="777" y="128.2" width="1" height="55.9"/>
<rect x="776" y="129.8" width="2" height="52.0"/>
<rect x="779" y="169.8" width="1" height="13.4"/>
<rect x="778" y="170.4" width="2" height="10.8"/>
<rect x="781" y="150.2" width="1" height="55.4"/>
<rect x="780" y="154.6" width="2" height="14.1"/>
<rect x="783" y="147.4" width="1" height="18.9"/>
<rect x="782" y="153.2" width="2" height="9.8"/>
<rect x="785" y="161.9" width="1" height="30.1"/>
<rect x="784" y="165.8" width="2" height="4.5"/>
<rect x="787" y="158.7" width="1" height="15.7"/>
<rect x="786" y="161.6" width="2" height="8.1"/>
<rect x="789" y="114.9" width="1" height="48.9"/>
<rect x="788" y="119.3" width="2" height="41.1"/>
<rect x="791" y="106.8" width="1" height="11.2"/>
<rect x="790" y="112.1" width="2" height="4.9"/>
<rect x="793" y="113.2" width="1" height="14.3"/>
<rect x="792" y="114.6" width="2" height="12.4"/>
<rect x="795" y="119.9" width="1" height="23.3"/>
<rect x="794" y="124.6" width="2" height="12.7"/>
<rect x="797" y="128.4" width="1" height="8.4"/>
<rect x="796" y="131.6" width="2" height="2.0"/>
<rect x="798" y="132.8" width="1" height="15.3"/>
<rect x="797" y="134.3" width="2" height="10.5"/>
<rect x="800" y="138.5" width="1" height="19.6"/>
<rect x="799" y="143.6" width="2" height="12.6"/>
<rect x="802" y="137.8" width="1" height="23.6"/>
<rect x="801" y="139.9" width="2" height="19.9"/>
<rect x="804" y="123.3" width="1" height="19.3"/>
<rect x="803" y="126.6" width="2" height="14.9"/>
<rect x="806" y="126.7" width="1" height="23.0"/>
<rect x="805" y="127.7" width="2" height="17.2"/>
<rect x="808" y="137.5" width="1" height="61.0"/>
<rect x="807" y="142.3" width="2" height="4.1"/>
<rect x="810" y="135.7" width="1" height="8.1"/>
<rect x="809" y="138.4" width="2" height="2.8"/>
<rect x="812" y="126.3" width="1" height="20.6"/>
<rect x="811" y="127.3" width="2" height="14.3"/>
<rect x="814" y="115.1" width="1" height="10.3"/>
<rect x="813" y="116.7" width="2" height="6.7"/>
<rect x="816" y="107.8" width="1" height="14.7"/>
<rect x="815" y="111.1" width="2" height="8.8"/>
<rect x="818" y="103.7" width="1" height="13.5"/>
<rect x="817" y="105.5" width="2" height="8.7"/>
<rect x="819" y="100.7" width="1" height="11.3"/>
<rect x="818" y="105.3" width="2" height="2.0"/>
<rect x="821" y="105.7" width="1" height="10.5"/>
<rect x="820" y="108.1" width="2" height="5.8"/>
<rect x="823" y="101.6" width="1" height="13.6"/>
<rect x="822" y="106.8" width="2" height="4.3"/>
<rect x="825" y="95.6" width="1" height="16.1"/>
<rect x="824" y="97.0" width="2" height="11.7"/>
<rect x="827" y="83.0" width="1" height="17.3"/>
<rect x="826" y="86.7" width="2" height="12.5"/>
<rect x="829" y="71.3" width="1" height="16.9"/>
<rect x="828" y="76.7" width="2" height="9.8"/>
<rect x="831" y="72.0" width="1" height="19.6"/>
<rect x="830" y="74.2" width="2" height="13.1"/>
<rect x="833" y="88.7" width="1" height="11.7"/>
<rect x="832" y="90.1" width="2" height="9.0"/>
<rect x="835" y="94.7" width="1" height="29.8"/>
<rect x="834" y="97.0" width="2" height="24.1"/>
<rect x="837" y="116.0" width="1" height="5.8"/>
<rect x="836" y="118.3" width="2" height="2.0"/>
<rect x="839" y="100.0" width="1" height="24.9"/>
<rect x="838" y="104.6" width="2" height="19.3"/>
<rect x="841" y="96.9" width="1" height="14.0"/>
<rect x="840" y="97.9" width="2" height="10.3"/>
<rect x="842" y="95.6" width="1" height="11.4"/>
<rect x="841" y="100.5" width="2" height="2.0"/>
<rect x="844" y="99.0" width="1" height="12.5"/>
<rect x="843" y="100.6" width="2" height="6.9"/>
<rect x="846" y="102.7" width="1" height="12.6"/>
<rect x="845" y="104.4" width="2" height="8.3"/>
<rect x="848" y="106.2" width="1" height="9.5"/>
<rect x="847" y="108.8" width="2" height="2.0"/>
<rect x="850" y="105.5" width="1" height="10.8"/>
<rect x="849" y="108.7" width="2" height="3.5"/>
<rect x="852" y="107.1" width="1" height="22.9"/>
<rect x="851" y="108.4" width="2" height="17.8"/>
<rect x="854" y="120.9" width="1" height="81.1"/>
<rect x="853" y="125.5" width="2" height="16.7"/>
<rect x="856" y="137.9" width="1" height="22.5"/>
<rect x="855" y="141.6" width="2" height="14.2"/>
<rect x="858" y="153.4" width="1" height="9.7"/>
<rect x="857" y="155.1" width="2" height="3.4"/>
<rect x="860" y="140.2" width="1" height="25.8"/>
<rect x="859" y="144.9" width="2" height="16.7"/>
<rect x="862" y="138.7" width="1" height="49.3"/>
<rect x="861" y="143.0" width="2" height="4.8"/>
<rect x="863" y="139.8" width="1" height="8.2"/>
<rect x="862" y="142.0" width="2" height="2.0"/>
<rect x="865" y="137.4" width="1" height="11.3"/>
<rect x="864" y="140.2" width="2" height="3.7"/>
<rect x="867" y="128.9" width="1" height="18.6"/>
<rect x="866" y="132.8" width="2" height="12.8"/>
<rect x="869" y="122.8" width="1" height="13.3"/>
<rect x="868" y="125.9" width="2" height="6.4"/>
<rect x="872" y="136.0" width="1" height="54.0"/>
<rect x="871" y="138.0" width="2" height="51.0"/>
<rect x="0" y="632.0" width="1" height="53.0"/>
<rect x="-1" y="633.0" width="2" height="51.0"/>
</g>
<path d="M0,487.5 C1.1,489.0 4.0,493.4 6.6,496.3 C9.2,499.2 12.5,502.1 15.5,505 C18.4,507.9 21.0,511.2 24.3,514 C27.6,516.8 32.2,520.0 35.3,521.7 C38.4,523.4 40.0,524.1 43,524.3 C46.0,524.5 50.2,522.8 53,522.8 C55.8,522.8 56.1,524.1 59.6,524.3 C63.1,524.4 67.9,524.0 74,523.7 C80.1,523.4 88.7,523.7 96,522.6 C103.3,521.5 108.8,518.1 118,517 C127.2,515.9 138.8,516.5 151,516 C163.2,515.5 181.7,513.7 191,513.8 C200.3,513.9 201.6,516.0 206.6,516.5 C211.6,517.0 216.3,516.7 221,517 C225.7,517.3 230.2,517.2 235,518.5 C239.8,519.8 245.6,523.6 249.5,525 C253.4,526.4 254.8,527.7 258.3,527 C261.8,526.3 262.8,525.5 270.7,521 C278.6,516.5 294.3,506.4 306,500 C317.7,493.6 329.2,488.4 341,482.5 C352.8,476.6 366.4,470.7 376.7,464.8 C387.0,458.9 395.8,451.5 403,447 C410.2,442.5 416.1,440.1 420,437.6 C423.9,435.1 421.6,436.3 426.6,432 C431.6,427.7 441.1,420.0 450,412 C458.9,404.0 468.2,394.3 480,384 C491.8,373.7 508.6,360.3 521,350 C533.4,339.7 545.2,329.4 554.5,322 C563.8,314.6 569.6,310.4 576.6,305.6 C583.6,300.9 589.3,297.8 596.5,293.5 C603.7,289.2 611.9,285.1 620,280 C628.1,274.9 637.0,268.0 645,263 C653.0,258.0 660.5,254.1 668,250 C675.5,245.9 682.6,241.5 690,238.7 C697.4,235.9 705.1,235.4 712.5,233 C719.9,230.6 729.9,226.0 734.5,224.4 C739.1,222.8 736.9,225.4 740,223.7 C743.1,222.0 748.2,217.6 753,214 C757.8,210.4 763.5,204.5 768.7,202 C773.9,199.5 777.0,200.4 784,199 C791.0,197.6 803.3,195.8 810.6,193.4 C817.9,191.0 821.4,187.3 828,184.6 C834.6,181.9 843.0,178.6 850,177 C857.0,175.4 866.7,175.3 870,175" fill="none" stroke="#ff0000" stroke-width="1.1"/>
<rect x="314" y="740.5" width="58" height="2" fill="#ff0000" />
<text x="9" y="27.5" font-size="20.3" fill="#000" text-anchor="start" textLength="137.5" lengthAdjust="spacingAndGlyphs" >RIC: .STOX50E</text>
<text x="9" y="56.5" font-size="20.3" fill="#000" text-anchor="start" textLength="204.3" lengthAdjust="spacingAndGlyphs" >EXCHANGE: EUROPE</text>
<text x="9" y="85.5" font-size="20.3" fill="#000" text-anchor="start" textLength="217.7" lengthAdjust="spacingAndGlyphs" >EUROSTOXX 50 INDEX</text>
<text x="9" y="114.7" font-size="20.3" fill="#000" text-anchor="start" textLength="122.3" lengthAdjust="spacingAndGlyphs" >DAILY SCALE</text>
<text x="65.9" y="304.5" font-size="18.2" fill="#0000ff" text-anchor="start" textLength="302" lengthAdjust="spacingAndGlyphs" >RECTANGLE PRICE TARGET: 3,740</text>
<text x="411.8" y="475.2" font-size="17.6" fill="#0000ff" text-anchor="start" textLength="44.4" lengthAdjust="spacingAndGlyphs" >3,400</text>
<text x="294.4" y="613.3" font-size="17.6" fill="#0000ff" text-anchor="start" textLength="44.4" lengthAdjust="spacingAndGlyphs" >3,065</text>
<text x="92.4" y="651.6" font-size="18.4" fill="#0000ff" text-anchor="start" textLength="147" lengthAdjust="spacingAndGlyphs" >4 MONTH-LONG</text>
<text x="92.4" y="678.7" font-size="18.4" fill="#0000ff" text-anchor="start" textLength="105.7" lengthAdjust="spacingAndGlyphs" >RECTANGLE</text>
<text x="384.4" y="753" font-size="18.4" fill="#ff0000" text-anchor="start" textLength="153.8" lengthAdjust="spacingAndGlyphs" >200 DAY AVERAGE</text>
<text x="681.5" y="74.8" font-size="17.6" fill="#0000ff" text-anchor="start" textLength="44.2" lengthAdjust="spacingAndGlyphs" >4,410</text>
<text x="882.4" y="180.2" font-size="17.6" fill="#ff0000" text-anchor="start" textLength="43" lengthAdjust="spacingAndGlyphs" >4,110</text>
<text x="883.5" y="210" font-size="17.6" fill="#0000ff" text-anchor="start" textLength="44.1" lengthAdjust="spacingAndGlyphs" >4,040</text>
<g shape-rendering="crispEdges">
<rect x="932" y="0" width="1" height="870" fill="#000" />
<rect x="933" y="856" width="8" height="1" fill="#000" />
<rect x="933" y="828" width="4" height="1" fill="#000" />
<rect x="933" y="800" width="8" height="1" fill="#000" />
<rect x="933" y="773" width="4" height="1" fill="#000" />
<rect x="933" y="746" width="8" height="1" fill="#000" />
<rect x="933" y="720" width="4" height="1" fill="#000" />
<rect x="933" y="694" width="8" height="1" fill="#000" />
<rect x="933" y="669" width="4" height="1" fill="#000" />
<rect x="933" y="644" width="8" height="1" fill="#000" />
<rect x="933" y="619" width="4" height="1" fill="#000" />
<rect x="933" y="595" width="8" height="1" fill="#000" />
<rect x="933" y="571" width="4" height="1" fill="#000" />
<rect x="933" y="548" width="8" height="1" fill="#000" />
<rect x="933" y="525" width="4" height="1" fill="#000" />
<rect x="933" y="502" width="8" height="1" fill="#000" />
<rect x="933" y="480" width="4" height="1" fill="#000" />
<rect x="933" y="458" width="8" height="1" fill="#000" />
<rect x="933" y="436" width="4" height="1" fill="#000" />
<rect x="933" y="415" width="8" height="1" fill="#000" />
<rect x="933" y="394" width="4" height="1" fill="#000" />
<rect x="933" y="373" width="8" height="1" fill="#000" />
<rect x="933" y="352" width="4" height="1" fill="#000" />
<rect x="933" y="332" width="8" height="1" fill="#000" />
<rect x="933" y="312" width="4" height="1" fill="#000" />
<rect x="933" y="293" width="8" height="1" fill="#000" />
<rect x="933" y="273" width="4" height="1" fill="#000" />
<rect x="933" y="254" width="8" height="1" fill="#000" />
<rect x="933" y="235" width="4" height="1" fill="#000" />
<rect x="933" y="216" width="8" height="1" fill="#000" />
<rect x="933" y="198" width="4" height="1" fill="#000" />
<rect x="933" y="180" width="8" height="1" fill="#000" />
<rect x="933" y="162" width="4" height="1" fill="#000" />
<rect x="933" y="144" width="8" height="1" fill="#000" />
<rect x="933" y="126" width="4" height="1" fill="#000" />
<rect x="933" y="109" width="8" height="1" fill="#000" />
<rect x="933" y="92" width="4" height="1" fill="#000" />
<rect x="933" y="75" width="8" height="1" fill="#000" />
<rect x="933" y="58" width="4" height="1" fill="#000" />
<rect x="933" y="41" width="8" height="1" fill="#000" />
<rect x="933" y="25" width="4" height="1" fill="#000" />
<rect x="933" y="9" width="8" height="1" fill="#000" />
</g>
<text x="943.2" y="810.785" font-size="20" fill="#000" text-anchor="start" textLength="35.3" lengthAdjust="spacingAndGlyphs" >270</text>
<text x="943.2" y="756.75" font-size="20" fill="#000" text-anchor="start" textLength="35.3" lengthAdjust="spacingAndGlyphs" >280</text>
<text x="943.2" y="704.611" font-size="20" fill="#000" text-anchor="start" textLength="35.3" lengthAdjust="spacingAndGlyphs" >290</text>
<text x="943.2" y="654.24" font-size="20" fill="#000" text-anchor="start" textLength="35.3" lengthAdjust="spacingAndGlyphs" >300</text>
<text x="943.2" y="605.521" font-size="20" fill="#000" text-anchor="start" textLength="35.3" lengthAdjust="spacingAndGlyphs" >310</text>
<text x="943.2" y="558.349" font-size="20" fill="#000" text-anchor="start" textLength="35.3" lengthAdjust="spacingAndGlyphs" >320</text>
<text x="943.2" y="512.628" font-size="20" fill="#000" text-anchor="start" textLength="35.3" lengthAdjust="spacingAndGlyphs" >330</text>
<text x="943.2" y="468.273" font-size="20" fill="#000" text-anchor="start" textLength="35.3" lengthAdjust="spacingAndGlyphs" >340</text>
<text x="943.2" y="425.203" font-size="20" fill="#000" text-anchor="start" textLength="35.3" lengthAdjust="spacingAndGlyphs" >350</text>
<text x="943.2" y="383.347" font-size="20" fill="#000" text-anchor="start" textLength="35.3" lengthAdjust="spacingAndGlyphs" >360</text>
<text x="943.2" y="342.637" font-size="20" fill="#000" text-anchor="start" textLength="35.3" lengthAdjust="spacingAndGlyphs" >370</text>
<text x="943.2" y="303.014" font-size="20" fill="#000" text-anchor="start" textLength="35.3" lengthAdjust="spacingAndGlyphs" >380</text>
<text x="943.2" y="264.419" font-size="20" fill="#000" text-anchor="start" textLength="35.3" lengthAdjust="spacingAndGlyphs" >390</text>
<text x="943.2" y="226.802" font-size="20" fill="#000" text-anchor="start" textLength="35.3" lengthAdjust="spacingAndGlyphs" >400</text>
<text x="943.2" y="190.114" font-size="20" fill="#000" text-anchor="start" textLength="35.3" lengthAdjust="spacingAndGlyphs" >410</text>
<text x="943.2" y="154.31" font-size="20" fill="#000" text-anchor="start" textLength="35.3" lengthAdjust="spacingAndGlyphs" >420</text>
<text x="943.2" y="119.348" font-size="20" fill="#000" text-anchor="start" textLength="35.3" lengthAdjust="spacingAndGlyphs" >430</text>
<text x="943.2" y="85.1902" font-size="20" fill="#000" text-anchor="start" textLength="35.3" lengthAdjust="spacingAndGlyphs" >440</text>
<text x="943.2" y="51.8" font-size="20" fill="#000" text-anchor="start" textLength="35.3" lengthAdjust="spacingAndGlyphs" >450</text>
<rect x="937" y="169" width="46" height="29.7" fill="#003f7f" />
<clipPath id="cb1"><rect x="937" y="169" width="46" height="30"/></clipPath>
<text x="938.2" y="191.9" font-size="21" fill="#fff" text-anchor="start" textLength="47.5" lengthAdjust="spacingAndGlyphs" clip-path="url(#cb1)">4086</text>
<rect x="934.5" y="844.5" width="29" height="23" fill="#fff" stroke="#000" stroke-width="1" shape-rendering="crispEdges"/>
<text x="936" y="861.9" font-size="14.6" fill="#000" text-anchor="start" textLength="26" lengthAdjust="spacingAndGlyphs" >x10</text>
<g shape-rendering="crispEdges">
<rect x="0" y="869" width="933" height="1" fill="#000" />
<rect x="1" y="869" width="1" height="37" fill="#000" />
<rect x="41" y="869" width="1" height="37" fill="#000" />
<rect x="83" y="869" width="1" height="37" fill="#000" />
<rect x="128" y="869" width="1" height="37" fill="#000" />
<rect x="168" y="869" width="1" height="37" fill="#000" />
<rect x="210" y="869" width="1" height="37" fill="#000" />
<rect x="251" y="869" width="1" height="37" fill="#000" />
<rect x="291" y="869" width="1" height="37" fill="#000" />
<rect x="334" y="869" width="1" height="37" fill="#000" />
<rect x="409" y="869" width="1" height="37" fill="#000" />
<rect x="454" y="869" width="1" height="37" fill="#000" />
<rect x="491" y="869" width="1" height="37" fill="#000" />
<rect x="531" y="869" width="1" height="37" fill="#000" />
<rect x="574" y="869" width="1" height="37" fill="#000" />
<rect x="616" y="869" width="1" height="37" fill="#000" />
<rect x="658" y="869" width="1" height="37" fill="#000" />
<rect x="700" y="869" width="1" height="37" fill="#000" />
<rect x="740" y="869" width="1" height="37" fill="#000" />
<rect x="783" y="869" width="1" height="37" fill="#000" />
<rect x="826" y="869" width="1" height="37" fill="#000" />
<rect x="904" y="869" width="1" height="37" fill="#000" />
<rect x="13" y="869" width="1" height="10" fill="#000" />
<rect x="22" y="869" width="1" height="10" fill="#000" />
<rect x="32" y="869" width="1" height="10" fill="#000" />
<rect x="41" y="869" width="1" height="10" fill="#000" />
<rect x="51" y="869" width="1" height="10" fill="#000" />
<rect x="61" y="869" width="1" height="10" fill="#000" />
<rect x="70" y="869" width="1" height="10" fill="#000" />
<rect x="80" y="869" width="1" height="10" fill="#000" />
<rect x="89" y="869" width="1" height="10" fill="#000" />
<rect x="99" y="869" width="1" height="10" fill="#000" />
<rect x="108" y="869" width="1" height="10" fill="#000" />
<rect x="118" y="869" width="1" height="10" fill="#000" />
<rect x="128" y="869" width="1" height="10" fill="#000" />
<rect x="137" y="869" width="1" height="10" fill="#000" />
<rect x="147" y="869" width="1" height="10" fill="#000" />
<rect x="156" y="869" width="1" height="10" fill="#000" />
<rect x="166" y="869" width="1" height="10" fill="#000" />
<rect x="175" y="869" width="1" height="10" fill="#000" />
<rect x="185" y="869" width="1" height="10" fill="#000" />
<rect x="195" y="869" width="1" height="10" fill="#000" />
<rect x="204" y="869" width="1" height="10" fill="#000" />
<rect x="214" y="869" width="1" height="10" fill="#000" />
<rect x="223" y="869" width="1" height="10" fill="#000" />
<rect x="233" y="869" width="1" height="10" fill="#000" />
<rect x="242" y="869" width="1" height="10" fill="#000" />
<rect x="252" y="869" width="1" height="10" fill="#000" />
<rect x="262" y="869" width="1" height="10" fill="#000" />
<rect x="271" y="869" width="1" height="10" fill="#000" />
<rect x="281" y="869" width="1" height="10" fill="#000" />
<rect x="290" y="869" width="1" height="10" fill="#000" />
<rect x="300" y="869" width="1" height="10" fill="#000" />
<rect x="309" y="869" width="1" height="10" fill="#000" />
<rect x="319" y="869" width="1" height="10" fill="#000" />
<rect x="329" y="869" width="1" height="10" fill="#000" />
<rect x="338" y="869" width="1" height="10" fill="#000" />
<rect x="348" y="869" width="1" height="10" fill="#000" />
<rect x="357" y="869" width="1" height="10" fill="#000" />
<rect x="367" y="869" width="1" height="10" fill="#000" />
<rect x="376" y="869" width="1" height="10" fill="#000" />
<rect x="386" y="869" width="1" height="10" fill="#000" />
<rect x="396" y="869" width="1" height="10" fill="#000" />
<rect x="405" y="869" width="1" height="10" fill="#000" />
<rect x="415" y="869" width="1" height="10" fill="#000" />
<rect x="424" y="869" width="1" height="10" fill="#000" />
<rect x="434" y="869" width="1" height="10" fill="#000" />
<rect x="443" y="869" width="1" height="10" fill="#000" />
<rect x="453" y="869" width="1" height="10" fill="#000" />
<rect x="462" y="869" width="1" height="10" fill="#000" />
<rect x="472" y="869" width="1" height="10" fill="#000" />
<rect x="482" y="869" width="1" height="10" fill="#000" />
<rect x="491" y="869" width="1" height="10" fill="#000" />
<rect x="501" y="869" width="1" height="10" fill="#000" />
<rect x="510" y="869" width="1" height="10" fill="#000" />
<rect x="520" y="869" width="1" height="10" fill="#000" />
<rect x="529" y="869" width="1" height="10" fill="#000" />
<rect x="539" y="869" width="1" height="10" fill="#000" />
<rect x="549" y="869" width="1" height="10" fill="#000" />
<rect x="558" y="869" width="1" height="10" fill="#000" />
<rect x="568" y="869" width="1" height="10" fill="#000" />
<rect x="577" y="869" width="1" height="10" fill="#000" />
<rect x="587" y="869" width="1" height="10" fill="#000" />
<rect x="596" y="869" width="1" height="10" fill="#000" />
<rect x="606" y="869" width="1" height="10" fill="#000" />
<rect x="616" y="869" width="1" height="10" fill="#000" />
<rect x="625" y="869" width="1" height="10" fill="#000" />
<rect x="635" y="869" width="1" height="10" fill="#000" />
<rect x="644" y="869" width="1" height="10" fill="#000" />
<rect x="654" y="869" width="1" height="10" fill="#000" />
<rect x="663" y="869" width="1" height="10" fill="#000" />
<rect x="673" y="869" width="1" height="10" fill="#000" />
<rect x="683" y="869" width="1" height="10" fill="#000" />
<rect x="692" y="869" width="1" height="10" fill="#000" />
<rect x="702" y="869" width="1" height="10" fill="#000" />
<rect x="711" y="869" width="1" height="10" fill="#000" />
<rect x="721" y="869" width="1" height="10" fill="#000" />
<rect x="730" y="869" width="1" height="10" fill="#000" />
<rect x="740" y="869" width="1" height="10" fill="#000" />
<rect x="750" y="869" width="1" height="10" fill="#000" />
<rect x="759" y="869" width="1" height="10" fill="#000" />
<rect x="769" y="869" width="1" height="10" fill="#000" />
<rect x="778" y="869" width="1" height="10" fill="#000" />
<rect x="788" y="869" width="1" height="10" fill="#000" />
<rect x="797" y="869" width="1" height="10" fill="#000" />
<rect x="807" y="869" width="1" height="10" fill="#000" />
<rect x="817" y="869" width="1" height="10" fill="#000" />
<rect x="826" y="869" width="1" height="10" fill="#000" />
<rect x="836" y="869" width="1" height="10" fill="#000" />
<rect x="845" y="869" width="1" height="10" fill="#000" />
<rect x="855" y="869" width="1" height="10" fill="#000" />
<rect x="864" y="869" width="1" height="10" fill="#000" />
<rect x="874" y="869" width="1" height="10" fill="#000" />
<rect x="884" y="869" width="1" height="10" fill="#000" />
<rect x="893" y="869" width="1" height="10" fill="#000" />
<rect x="903" y="869" width="1" height="10" fill="#000" />
<rect x="912" y="869" width="1" height="10" fill="#000" />
<rect x="922" y="869" width="1" height="10" fill="#000" />
<rect x="931" y="869" width="1" height="10" fill="#000" />
<rect x="866" y="869" width="1" height="10" fill="#000" />
</g>
<text x="3.5" y="901" font-size="20.3" fill="#000" text-anchor="start" textLength="19.3" lengthAdjust="spacingAndGlyphs" >M</text>
<text x="42.3" y="901" font-size="20.3" fill="#000" text-anchor="start" textLength="8.2" lengthAdjust="spacingAndGlyphs" >J</text>
<text x="84.4" y="901" font-size="20.3" fill="#000" text-anchor="start" textLength="8.2" lengthAdjust="spacingAndGlyphs" >J</text>
<text x="129.1" y="901" font-size="20.3" fill="#000" text-anchor="start" >A</text>
<text x="169.1" y="901" font-size="20.3" fill="#000" text-anchor="start" textLength="11" lengthAdjust="spacingAndGlyphs" >S</text>
<text x="211.2" y="901" font-size="20.3" fill="#000" text-anchor="start" >O</text>
<text x="252.5" y="901" font-size="20.3" fill="#000" text-anchor="start" >N</text>
<text x="293" y="901" font-size="20.3" fill="#000" text-anchor="start" >D</text>
<text x="334.7" y="901" font-size="20.3" fill="#000" text-anchor="start" textLength="47.5" lengthAdjust="spacingAndGlyphs" >2021</text>
<text x="411.5" y="901" font-size="20.3" fill="#000" text-anchor="start" textLength="19.3" lengthAdjust="spacingAndGlyphs" >M</text>
<text x="455.5" y="901" font-size="20.3" fill="#000" text-anchor="start" >A</text>
<text x="493.2" y="901" font-size="20.3" fill="#000" text-anchor="start" textLength="19.3" lengthAdjust="spacingAndGlyphs" >M</text>
<text x="532" y="901" font-size="20.3" fill="#000" text-anchor="start" textLength="8.2" lengthAdjust="spacingAndGlyphs" >J</text>
<text x="574.6" y="901" font-size="20.3" fill="#000" text-anchor="start" textLength="8.2" lengthAdjust="spacingAndGlyphs" >J</text>
<text x="617.9" y="901" font-size="20.3" fill="#000" text-anchor="start" >A</text>
<text x="660" y="901" font-size="20.3" fill="#000" text-anchor="start" textLength="11" lengthAdjust="spacingAndGlyphs" >S</text>
<text x="701.9" y="901" font-size="20.3" fill="#000" text-anchor="start" >O</text>
<text x="742" y="901" font-size="20.3" fill="#000" text-anchor="start" >N</text>
<text x="784.2" y="901" font-size="20.3" fill="#000" text-anchor="start" >D</text>
<text x="827.2" y="901" font-size="20.3" fill="#000" text-anchor="start" textLength="47.5" lengthAdjust="spacingAndGlyphs" >2022</text>
<text x="906.6" y="901" font-size="20.3" fill="#000" text-anchor="start" textLength="19.3" lengthAdjust="spacingAndGlyphs" >M</text>
<rect x="933" y="870" width="50" height="36" fill="#e8e8e8" />
<rect x="932" y="869" width="51" height="1" fill="#808080" />
<rect x="932" y="869" width="1" height="37" fill="#808080" />
<rect x="983" y="0" width="6" height="906" fill="#404040" />
<g shape-rendering="crispEdges">
<rect x="989" y="263" width="533" height="1" fill="#009000" />
<rect x="1572" y="263" width="351" height="1" fill="#009000" />
<rect x="989" y="643" width="562" height="1" fill="#009000" />
<rect x="1414" y="219" width="104" height="1" fill="#0000ff" />
<rect x="1568" y="219" width="169" height="1" fill="#0000ff" />
<rect x="1473" y="365" width="147.5" height="1" fill="#0000ff" />
<rect x="1484" y="484" width="125" height="1" fill="#0000ff" />
</g>
<line x1="1667.2" y1="148.5" x2="1783.8" y2="61.6" stroke="#0000ff" stroke-width="1"/>
<line x1="1675.4" y1="218.7" x2="1831" y2="156.3" stroke="#0000ff" stroke-width="1"/>
<g shape-rendering="crispEdges">
<rect x="990" y="296.3" width="1" height="44.2" fill="#000"/>
<rect x="988" y="296.3" width="4" height="33.1" fill="#000"/>
<rect x="989" y="297.3" width="2" height="31.1" fill="#fff"/>
<rect x="994" y="289.7" width="1" height="12.1" fill="#000"/>
<rect x="992" y="294.1" width="4" height="2.2" fill="#000"/>
<rect x="998" y="281.9" width="1" height="15.9" fill="#000"/>
<rect x="996" y="283.0" width="4" height="12.1" fill="#000"/>
<rect x="997" y="284.0" width="2" height="10.1" fill="#fff"/>
<rect x="1002" y="270.9" width="1" height="24.3" fill="#000"/>
<rect x="1000" y="283.0" width="4" height="11.0" fill="#000"/>
<rect x="1001" y="284.0" width="2" height="9.0" fill="#fff"/>
<rect x="1005" y="283.0" width="1" height="39.7" fill="#000"/>
<rect x="1003" y="283.0" width="4" height="39.7" fill="#000"/>
<rect x="1009" y="325.0" width="1" height="70.6" fill="#000"/>
<rect x="1007" y="325.0" width="4" height="63.4" fill="#000"/>
<rect x="1013" y="351.5" width="1" height="40.8" fill="#000"/>
<rect x="1011" y="354.8" width="4" height="30.9" fill="#000"/>
<rect x="1012" y="355.8" width="2" height="28.9" fill="#fff"/>
<rect x="1017" y="349.3" width="1" height="16.6" fill="#000"/>
<rect x="1015" y="350.4" width="4" height="3.3" fill="#000"/>
<rect x="1016" y="351.4" width="2" height="1.3" fill="#fff"/>
<rect x="1021" y="339.3" width="1" height="51.9" fill="#000"/>
<rect x="1019" y="348.2" width="4" height="41.9" fill="#000"/>
<rect x="1025" y="351.5" width="1" height="43.0" fill="#000"/>
<rect x="1023" y="357.0" width="4" height="36.4" fill="#000"/>
<rect x="1024" y="358.0" width="2" height="34.4" fill="#fff"/>
<rect x="1029" y="348.2" width="1" height="22.1" fill="#000"/>
<rect x="1027" y="352.1" width="4" height="1.8" fill="#000"/>
<rect x="1033" y="353.7" width="1" height="50.8" fill="#000"/>
<rect x="1031" y="353.7" width="4" height="44.8" fill="#000"/>
<rect x="1037" y="371.3" width="1" height="40.4" fill="#000"/>
<rect x="1035" y="376.9" width="4" height="21.6" fill="#000"/>
<rect x="1036" y="377.9" width="2" height="19.6" fill="#fff"/>
<rect x="1040" y="353.7" width="1" height="44.2" fill="#000"/>
<rect x="1038" y="361.0" width="4" height="20.3" fill="#000"/>
<rect x="1039" y="362.0" width="2" height="18.3" fill="#fff"/>
<rect x="1044" y="342.0" width="1" height="21.6" fill="#000"/>
<rect x="1042" y="348.2" width="4" height="11.7" fill="#000"/>
<rect x="1043" y="349.2" width="2" height="9.7" fill="#fff"/>
<rect x="1048" y="328.3" width="1" height="23.2" fill="#000"/>
<rect x="1046" y="333.4" width="4" height="14.1" fill="#000"/>
<rect x="1047" y="334.4" width="2" height="12.1" fill="#fff"/>
<rect x="1052" y="322.8" width="1" height="21.0" fill="#000"/>
<rect x="1050" y="325.0" width="4" height="8.4" fill="#000"/>
<rect x="1051" y="326.0" width="2" height="6.4" fill="#fff"/>
<rect x="1056" y="310.6" width="1" height="16.6" fill="#000"/>
<rect x="1054" y="314.0" width="4" height="11.7" fill="#000"/>
<rect x="1055" y="315.0" width="2" height="9.7" fill="#fff"/>
<rect x="1060" y="307.3" width="1" height="10.4" fill="#000"/>
<rect x="1058" y="310.2" width="4" height="6.6" fill="#000"/>
<rect x="1059" y="311.2" width="2" height="4.6" fill="#fff"/>
<rect x="1064" y="299.6" width="1" height="14.3" fill="#000"/>
<rect x="1062" y="307.3" width="4" height="3.3" fill="#000"/>
<rect x="1063" y="308.3" width="2" height="1.3" fill="#fff"/>
<rect x="1068" y="300.0" width="1" height="32.7" fill="#000"/>
<rect x="1066" y="307.3" width="4" height="18.3" fill="#000"/>
<rect x="1072" y="317.7" width="1" height="49.2" fill="#000"/>
<rect x="1070" y="327.2" width="4" height="18.3" fill="#000"/>
<rect x="1076" y="340.4" width="1" height="16.6" fill="#000"/>
<rect x="1074" y="342.0" width="4" height="5.1" fill="#000"/>
<rect x="1079" y="317.7" width="1" height="30.5" fill="#000"/>
<rect x="1077" y="329.4" width="4" height="18.1" fill="#000"/>
<rect x="1078" y="330.4" width="2" height="16.1" fill="#fff"/>
<rect x="1083" y="330.9" width="1" height="34.9" fill="#000"/>
<rect x="1081" y="330.9" width="4" height="18.3" fill="#000"/>
<rect x="1087" y="350.4" width="1" height="33.1" fill="#000"/>
<rect x="1085" y="356.3" width="4" height="15.7" fill="#000"/>
<rect x="1091" y="343.8" width="1" height="38.6" fill="#000"/>
<rect x="1089" y="348.2" width="4" height="24.3" fill="#000"/>
<rect x="1090" y="349.2" width="2" height="22.3" fill="#fff"/>
<rect x="1095" y="336.5" width="1" height="21.6" fill="#000"/>
<rect x="1093" y="345.1" width="4" height="1.5" fill="#000"/>
<rect x="1099" y="334.9" width="1" height="18.8" fill="#000"/>
<rect x="1097" y="344.6" width="4" height="1.8" fill="#000"/>
<rect x="1103" y="321.2" width="1" height="30.2" fill="#000"/>
<rect x="1101" y="322.1" width="4" height="24.5" fill="#000"/>
<rect x="1102" y="323.1" width="2" height="22.5" fill="#fff"/>
<rect x="1107" y="319.0" width="1" height="24.7" fill="#000"/>
<rect x="1105" y="325.0" width="4" height="11.5" fill="#000"/>
<rect x="1111" y="326.1" width="1" height="33.1" fill="#000"/>
<rect x="1109" y="336.0" width="4" height="18.3" fill="#000"/>
<rect x="1114" y="351.5" width="1" height="29.4" fill="#000"/>
<rect x="1112" y="355.9" width="4" height="16.6" fill="#000"/>
<rect x="1118" y="352.6" width="1" height="21.0" fill="#000"/>
<rect x="1116" y="355.2" width="4" height="17.2" fill="#000"/>
<rect x="1117" y="356.2" width="2" height="15.2" fill="#fff"/>
<rect x="1122" y="342.6" width="1" height="24.3" fill="#000"/>
<rect x="1120" y="351.9" width="4" height="13.9" fill="#000"/>
<rect x="1126" y="360.3" width="1" height="46.4" fill="#000"/>
<rect x="1124" y="366.9" width="4" height="33.8" fill="#000"/>
<rect x="1130" y="380.2" width="1" height="22.7" fill="#000"/>
<rect x="1128" y="383.5" width="4" height="18.3" fill="#000"/>
<rect x="1129" y="384.5" width="2" height="16.3" fill="#fff"/>
<rect x="1134" y="352.6" width="1" height="34.2" fill="#000"/>
<rect x="1132" y="354.1" width="4" height="30.5" fill="#000"/>
<rect x="1133" y="355.1" width="2" height="28.5" fill="#fff"/>
<rect x="1138" y="347.1" width="1" height="23.2" fill="#000"/>
<rect x="1136" y="354.8" width="4" height="8.8" fill="#000"/>
<rect x="1142" y="355.9" width="1" height="26.5" fill="#000"/>
<rect x="1140" y="364.1" width="4" height="18.3" fill="#000"/>
<rect x="1146" y="385.0" width="1" height="50.2" fill="#000"/>
<rect x="1144" y="385.0" width="4" height="50.2" fill="#000"/>
<rect x="1149" y="404.3" width="1" height="33.7" fill="#000"/>
<rect x="1147" y="430.2" width="4" height="6.3" fill="#000"/>
<rect x="1148" y="431.2" width="2" height="4.3" fill="#fff"/>
<rect x="1153" y="417.3" width="1" height="55.2" fill="#000"/>
<rect x="1151" y="426.9" width="4" height="29.8" fill="#000"/>
<rect x="1157" y="415.9" width="1" height="44.7" fill="#000"/>
<rect x="1155" y="428.3" width="4" height="27.6" fill="#000"/>
<rect x="1156" y="429.3" width="2" height="25.6" fill="#fff"/>
<rect x="1161" y="411.8" width="1" height="20.7" fill="#000"/>
<rect x="1159" y="423.6" width="4" height="4.7" fill="#000"/>
<rect x="1160" y="424.6" width="2" height="2.7" fill="#fff"/>
<rect x="1165" y="415.9" width="1" height="24.8" fill="#000"/>
<rect x="1163" y="420.0" width="4" height="19.3" fill="#000"/>
<rect x="1169" y="431.1" width="1" height="37.3" fill="#000"/>
<rect x="1167" y="439.3" width="4" height="15.7" fill="#000"/>
<rect x="1173" y="434.4" width="1" height="17.4" fill="#000"/>
<rect x="1171" y="443.5" width="4" height="7.7" fill="#000"/>
<rect x="1172" y="444.5" width="2" height="5.7" fill="#fff"/>
<rect x="1177" y="417.3" width="1" height="75.9" fill="#000"/>
<rect x="1175" y="438.0" width="4" height="46.4" fill="#000"/>
<rect x="1181" y="458.7" width="1" height="44.2" fill="#000"/>
<rect x="1179" y="472.5" width="4" height="15.2" fill="#000"/>
<rect x="1184" y="472.5" width="1" height="51.0" fill="#000"/>
<rect x="1182" y="473.3" width="4" height="33.1" fill="#000"/>
<rect x="1188" y="508.3" width="1" height="34.5" fill="#000"/>
<rect x="1186" y="510.3" width="4" height="1.5" fill="#000"/>
<rect x="1192" y="490.4" width="1" height="41.4" fill="#000"/>
<rect x="1190" y="490.4" width="4" height="20.7" fill="#000"/>
<rect x="1191" y="491.4" width="2" height="18.7" fill="#fff"/>
<rect x="1196" y="473.8" width="1" height="26.2" fill="#000"/>
<rect x="1194" y="481.6" width="4" height="8.8" fill="#000"/>
<rect x="1195" y="482.6" width="2" height="6.8" fill="#fff"/>
<rect x="1200" y="457.3" width="1" height="35.9" fill="#000"/>
<rect x="1198" y="457.3" width="4" height="27.0" fill="#000"/>
<rect x="1199" y="458.3" width="2" height="25.0" fill="#fff"/>
<rect x="1204" y="444.9" width="1" height="26.2" fill="#000"/>
<rect x="1202" y="447.6" width="4" height="11.0" fill="#000"/>
<rect x="1203" y="448.6" width="2" height="9.0" fill="#fff"/>
<rect x="1208" y="442.1" width="1" height="16.6" fill="#000"/>
<rect x="1206" y="443.5" width="4" height="5.5" fill="#000"/>
<rect x="1207" y="444.5" width="2" height="3.5" fill="#fff"/>
<rect x="1212" y="428.3" width="1" height="32.3" fill="#000"/>
<rect x="1210" y="443.5" width="4" height="13.2" fill="#000"/>
<rect x="1216" y="417.3" width="1" height="37.3" fill="#000"/>
<rect x="1214" y="419.2" width="4" height="35.3" fill="#000"/>
<rect x="1215" y="420.2" width="2" height="33.3" fill="#fff"/>
<rect x="1220" y="404.9" width="1" height="19.3" fill="#000"/>
<rect x="1218" y="408.4" width="4" height="12.1" fill="#000"/>
<rect x="1219" y="409.4" width="2" height="10.1" fill="#fff"/>
<rect x="1223" y="388.3" width="1" height="23.5" fill="#000"/>
<rect x="1221" y="394.6" width="4" height="13.0" fill="#000"/>
<rect x="1222" y="395.6" width="2" height="11.0" fill="#fff"/>
<rect x="1227" y="384.2" width="1" height="20.7" fill="#000"/>
<rect x="1225" y="392.4" width="4" height="11.0" fill="#000"/>
<rect x="1231" y="366.2" width="1" height="37.3" fill="#000"/>
<rect x="1229" y="369.0" width="4" height="33.1" fill="#000"/>
<rect x="1230" y="370.0" width="2" height="31.1" fill="#fff"/>
<rect x="1235" y="357.1" width="1" height="42.2" fill="#000"/>
<rect x="1233" y="369.0" width="4" height="27.6" fill="#000"/>
<rect x="1239" y="380.6" width="1" height="22.9" fill="#000"/>
<rect x="1237" y="380.6" width="4" height="19.3" fill="#000"/>
<rect x="1238" y="381.6" width="2" height="17.3" fill="#fff"/>
<rect x="1243" y="348.3" width="1" height="32.3" fill="#000"/>
<rect x="1241" y="348.3" width="4" height="32.3" fill="#000"/>
<rect x="1242" y="349.3" width="2" height="30.3" fill="#fff"/>
<rect x="1247" y="346.9" width="1" height="12.4" fill="#000"/>
<rect x="1245" y="348.3" width="4" height="1.5" fill="#000"/>
<rect x="1251" y="329.0" width="1" height="20.1" fill="#000"/>
<rect x="1249" y="331.7" width="4" height="16.6" fill="#000"/>
<rect x="1250" y="332.7" width="2" height="14.6" fill="#fff"/>
<rect x="1255" y="326.2" width="1" height="12.4" fill="#000"/>
<rect x="1253" y="331.2" width="4" height="2.5" fill="#000"/>
<rect x="1258" y="326.2" width="1" height="11.0" fill="#000"/>
<rect x="1256" y="330.4" width="4" height="3.3" fill="#000"/>
<rect x="1257" y="331.4" width="2" height="1.3" fill="#fff"/>
<rect x="1262" y="334.5" width="1" height="47.5" fill="#000"/>
<rect x="1260" y="335.3" width="4" height="41.1" fill="#000"/>
<rect x="1266" y="351.0" width="1" height="42.8" fill="#000"/>
<rect x="1264" y="355.2" width="4" height="23.5" fill="#000"/>
<rect x="1265" y="356.2" width="2" height="21.5" fill="#fff"/>
<rect x="1270" y="355.2" width="1" height="34.5" fill="#000"/>
<rect x="1268" y="357.4" width="4" height="23.2" fill="#000"/>
<rect x="1274" y="380.0" width="1" height="33.1" fill="#000"/>
<rect x="1272" y="380.6" width="4" height="24.3" fill="#000"/>
<rect x="1278" y="367.6" width="1" height="48.3" fill="#000"/>
<rect x="1276" y="371.2" width="4" height="36.4" fill="#000"/>
<rect x="1277" y="372.2" width="2" height="34.4" fill="#fff"/>
<rect x="1282" y="369.0" width="1" height="7.7" fill="#000"/>
<rect x="1280" y="370.4" width="4" height="1.5" fill="#000"/>
<rect x="1286" y="331.7" width="1" height="42.8" fill="#000"/>
<rect x="1284" y="341.9" width="4" height="28.4" fill="#000"/>
<rect x="1285" y="342.9" width="2" height="26.4" fill="#fff"/>
<rect x="1290" y="338.6" width="1" height="16.6" fill="#000"/>
<rect x="1288" y="340.6" width="4" height="2.2" fill="#000"/>
<rect x="1293" y="315.2" width="1" height="25.7" fill="#000"/>
<rect x="1291" y="322.1" width="4" height="17.9" fill="#000"/>
<rect x="1292" y="323.1" width="2" height="15.9" fill="#fff"/>
<rect x="1297" y="320.7" width="1" height="12.4" fill="#000"/>
<rect x="1295" y="322.6" width="4" height="9.1" fill="#000"/>
<rect x="1301" y="320.7" width="1" height="20.7" fill="#000"/>
<rect x="1299" y="329.8" width="4" height="1.5" fill="#000"/>
<rect x="1305" y="306.9" width="1" height="34.5" fill="#000"/>
<rect x="1303" y="323.5" width="4" height="14.6" fill="#000"/>
<rect x="1309" y="317.9" width="1" height="56.6" fill="#000"/>
<rect x="1307" y="324.3" width="4" height="47.5" fill="#000"/>
<rect x="1313" y="372.3" width="1" height="31.2" fill="#000"/>
<rect x="1311" y="375.9" width="4" height="10.2" fill="#000"/>
<rect x="1317" y="371.2" width="1" height="47.5" fill="#000"/>
<rect x="1315" y="384.2" width="4" height="2.8" fill="#000"/>
<rect x="1321" y="361.6" width="1" height="26.5" fill="#000"/>
<rect x="1319" y="385.4" width="4" height="1.6" fill="#000"/>
<rect x="1325" y="349.7" width="1" height="41.6" fill="#000"/>
<rect x="1323" y="355.8" width="4" height="32.3" fill="#000"/>
<rect x="1324" y="356.8" width="2" height="30.3" fill="#fff"/>
<rect x="1329" y="332.5" width="1" height="29.1" fill="#000"/>
<rect x="1327" y="332.5" width="4" height="23.3" fill="#000"/>
<rect x="1328" y="333.5" width="2" height="21.3" fill="#fff"/>
<rect x="1332" y="312.6" width="1" height="23.8" fill="#000"/>
<rect x="1330" y="315.2" width="4" height="17.2" fill="#000"/>
<rect x="1331" y="316.2" width="2" height="15.2" fill="#fff"/>
<rect x="1336" y="305.4" width="1" height="23.0" fill="#000"/>
<rect x="1334" y="308.1" width="4" height="9.8" fill="#000"/>
<rect x="1335" y="309.1" width="2" height="7.8" fill="#fff"/>
<rect x="1340" y="307.3" width="1" height="27.8" fill="#000"/>
<rect x="1338" y="310.7" width="4" height="4.5" fill="#000"/>
<rect x="1344" y="302.0" width="1" height="62.3" fill="#000"/>
<rect x="1342" y="315.8" width="4" height="31.8" fill="#000"/>
<rect x="1348" y="306.0" width="1" height="49.0" fill="#000"/>
<rect x="1346" y="308.6" width="4" height="41.9" fill="#000"/>
<rect x="1347" y="309.6" width="2" height="39.9" fill="#fff"/>
<rect x="1352" y="300.7" width="1" height="19.9" fill="#000"/>
<rect x="1350" y="305.4" width="4" height="4.5" fill="#000"/>
<rect x="1351" y="306.4" width="2" height="2.5" fill="#fff"/>
<rect x="1356" y="288.7" width="1" height="17.2" fill="#000"/>
<rect x="1354" y="291.4" width="4" height="13.2" fill="#000"/>
<rect x="1355" y="292.4" width="2" height="11.2" fill="#fff"/>
<rect x="1360" y="287.4" width="1" height="13.2" fill="#000"/>
<rect x="1358" y="290.1" width="4" height="1.5" fill="#000"/>
<rect x="1364" y="266.2" width="1" height="23.8" fill="#000"/>
<rect x="1362" y="267.0" width="4" height="22.5" fill="#000"/>
<rect x="1363" y="268.0" width="2" height="20.5" fill="#fff"/>
<rect x="1367" y="260.4" width="1" height="16.4" fill="#000"/>
<rect x="1365" y="263.6" width="4" height="4.8" fill="#000"/>
<rect x="1366" y="264.6" width="2" height="2.8" fill="#fff"/>
<rect x="1371" y="257.0" width="1" height="23.8" fill="#000"/>
<rect x="1369" y="264.9" width="4" height="5.3" fill="#000"/>
<rect x="1375" y="260.9" width="1" height="11.9" fill="#000"/>
<rect x="1373" y="265.7" width="4" height="3.7" fill="#000"/>
<rect x="1374" y="266.7" width="2" height="1.7" fill="#fff"/>
<rect x="1379" y="262.3" width="1" height="37.1" fill="#000"/>
<rect x="1377" y="266.2" width="4" height="4.0" fill="#000"/>
<rect x="1383" y="247.7" width="1" height="43.7" fill="#000"/>
<rect x="1381" y="258.3" width="4" height="11.9" fill="#000"/>
<rect x="1382" y="259.3" width="2" height="9.9" fill="#fff"/>
<rect x="1387" y="242.4" width="1" height="17.2" fill="#000"/>
<rect x="1385" y="243.7" width="4" height="13.2" fill="#000"/>
<rect x="1386" y="244.7" width="2" height="11.2" fill="#fff"/>
<rect x="1391" y="238.4" width="1" height="7.9" fill="#000"/>
<rect x="1389" y="242.4" width="4" height="2.1" fill="#000"/>
<rect x="1395" y="235.8" width="1" height="18.5" fill="#000"/>
<rect x="1393" y="242.4" width="4" height="2.1" fill="#000"/>
<rect x="1399" y="237.1" width="1" height="26.0" fill="#000"/>
<rect x="1397" y="239.7" width="4" height="8.5" fill="#000"/>
<rect x="1398" y="240.7" width="2" height="6.5" fill="#fff"/>
<rect x="1402" y="233.1" width="1" height="19.9" fill="#000"/>
<rect x="1400" y="234.4" width="4" height="5.8" fill="#000"/>
<rect x="1401" y="235.4" width="2" height="3.8" fill="#fff"/>
<rect x="1406" y="234.4" width="1" height="22.5" fill="#000"/>
<rect x="1404" y="235.0" width="4" height="7.4" fill="#000"/>
<rect x="1410" y="250.3" width="1" height="35.0" fill="#000"/>
<rect x="1408" y="251.7" width="4" height="33.6" fill="#000"/>
<rect x="1414" y="234.4" width="1" height="50.3" fill="#000"/>
<rect x="1412" y="237.6" width="4" height="46.6" fill="#000"/>
<rect x="1413" y="238.6" width="2" height="44.6" fill="#fff"/>
<rect x="1418" y="221.2" width="1" height="21.2" fill="#000"/>
<rect x="1416" y="225.2" width="4" height="14.6" fill="#000"/>
<rect x="1417" y="226.2" width="2" height="12.6" fill="#fff"/>
<rect x="1422" y="217.2" width="1" height="26.5" fill="#000"/>
<rect x="1420" y="224.4" width="4" height="12.2" fill="#000"/>
<rect x="1426" y="248.2" width="1" height="155.8" fill="#000"/>
<rect x="1424" y="248.2" width="4" height="139.3" fill="#000"/>
<rect x="1430" y="348.5" width="1" height="79.5" fill="#000"/>
<rect x="1428" y="379.6" width="4" height="41.7" fill="#000"/>
<rect x="1434" y="428.0" width="1" height="271.7" fill="#000"/>
<rect x="1432" y="428.0" width="4" height="248.7" fill="#000"/>
<rect x="1437" y="665.0" width="1" height="144.4" fill="#000"/>
<rect x="1435" y="690.3" width="4" height="3.6" fill="#000"/>
<rect x="1441" y="566.8" width="1" height="181.8" fill="#000"/>
<rect x="1439" y="616.2" width="4" height="90.3" fill="#000"/>
<rect x="1440" y="617.2" width="2" height="88.3" fill="#fff"/>
<rect x="1445" y="574.7" width="1" height="84.8" fill="#000"/>
<rect x="1443" y="612.7" width="4" height="30.9" fill="#000"/>
<rect x="1449" y="536.8" width="1" height="90.5" fill="#000"/>
<rect x="1447" y="549.0" width="4" height="78.3" fill="#000"/>
<rect x="1448" y="550.0" width="2" height="76.3" fill="#fff"/>
<rect x="1453" y="523.9" width="1" height="65.0" fill="#000"/>
<rect x="1451" y="542.0" width="4" height="8.0" fill="#000"/>
<rect x="1457" y="542.0" width="1" height="47.7" fill="#000"/>
<rect x="1455" y="548.2" width="4" height="33.6" fill="#000"/>
<rect x="1461" y="497.8" width="1" height="72.5" fill="#000"/>
<rect x="1459" y="535.5" width="4" height="34.8" fill="#000"/>
<rect x="1460" y="536.5" width="2" height="32.8" fill="#fff"/>
<rect x="1465" y="541.0" width="1" height="44.3" fill="#000"/>
<rect x="1463" y="543.8" width="4" height="2.7" fill="#000"/>
<rect x="1469" y="535.0" width="1" height="88.8" fill="#000"/>
<rect x="1467" y="540.3" width="4" height="57.4" fill="#000"/>
<rect x="1473" y="528.0" width="1" height="58.6" fill="#000"/>
<rect x="1471" y="544.4" width="4" height="42.2" fill="#000"/>
<rect x="1472" y="545.4" width="2" height="40.2" fill="#fff"/>
<rect x="1476" y="470.0" width="1" height="70.3" fill="#000"/>
<rect x="1474" y="488.6" width="4" height="51.0" fill="#000"/>
<rect x="1475" y="489.6" width="2" height="49.0" fill="#fff"/>
<rect x="1480" y="365.5" width="1" height="118.3" fill="#000"/>
<rect x="1478" y="369.1" width="4" height="114.6" fill="#000"/>
<rect x="1479" y="370.1" width="2" height="112.6" fill="#fff"/>
<rect x="1484" y="365.5" width="1" height="99.6" fill="#000"/>
<rect x="1482" y="371.1" width="4" height="78.2" fill="#000"/>
<rect x="1488" y="398.3" width="1" height="87.4" fill="#000"/>
<rect x="1486" y="409.9" width="4" height="48.3" fill="#000"/>
<rect x="1487" y="410.9" width="2" height="46.3" fill="#fff"/>
<rect x="1492" y="392.2" width="1" height="59.5" fill="#000"/>
<rect x="1490" y="412.1" width="4" height="19.4" fill="#000"/>
<rect x="1496" y="386.1" width="1" height="53.4" fill="#000"/>
<rect x="1494" y="400.2" width="4" height="35.0" fill="#000"/>
<rect x="1495" y="401.2" width="2" height="33.0" fill="#fff"/>
<rect x="1500" y="371.6" width="1" height="47.4" fill="#000"/>
<rect x="1498" y="392.9" width="4" height="6.6" fill="#000"/>
<rect x="1504" y="364.3" width="1" height="41.3" fill="#000"/>
<rect x="1502" y="376.4" width="4" height="17.5" fill="#000"/>
<rect x="1503" y="377.4" width="2" height="15.5" fill="#fff"/>
<rect x="1508" y="347.3" width="1" height="52.2" fill="#000"/>
<rect x="1506" y="376.9" width="4" height="16.5" fill="#000"/>
<rect x="1511" y="392.2" width="1" height="50.3" fill="#000"/>
<rect x="1509" y="395.4" width="4" height="47.1" fill="#000"/>
<rect x="1515" y="412.9" width="1" height="30.4" fill="#000"/>
<rect x="1513" y="415.8" width="4" height="26.2" fill="#000"/>
<rect x="1514" y="416.8" width="2" height="24.2" fill="#fff"/>
<rect x="1519" y="372.1" width="1" height="46.1" fill="#000"/>
<rect x="1517" y="397.1" width="4" height="15.1" fill="#000"/>
<rect x="1518" y="398.1" width="2" height="13.1" fill="#fff"/>
<rect x="1523" y="387.4" width="1" height="37.6" fill="#000"/>
<rect x="1521" y="396.3" width="4" height="14.6" fill="#000"/>
<rect x="1527" y="372.8" width="1" height="37.6" fill="#000"/>
<rect x="1525" y="392.9" width="4" height="16.8" fill="#000"/>
<rect x="1526" y="393.9" width="2" height="14.8" fill="#fff"/>
<rect x="1531" y="366.2" width="1" height="54.4" fill="#000"/>
<rect x="1529" y="391.5" width="4" height="19.4" fill="#000"/>
<rect x="1535" y="384.9" width="1" height="34.0" fill="#000"/>
<rect x="1533" y="393.9" width="4" height="17.0" fill="#000"/>
<rect x="1534" y="394.9" width="2" height="15.0" fill="#fff"/>
<rect x="1539" y="381.3" width="1" height="23.1" fill="#000"/>
<rect x="1537" y="391.5" width="4" height="12.1" fill="#000"/>
<rect x="1543" y="406.1" width="1" height="64.6" fill="#000"/>
<rect x="1541" y="406.1" width="4" height="49.3" fill="#000"/>
<rect x="1546" y="423.8" width="1" height="30.4" fill="#000"/>
<rect x="1544" y="437.6" width="4" height="15.8" fill="#000"/>
<rect x="1545" y="438.6" width="2" height="13.8" fill="#fff"/>
<rect x="1550" y="405.6" width="1" height="29.1" fill="#000"/>
<rect x="1548" y="408.5" width="4" height="25.0" fill="#000"/>
<rect x="1549" y="409.5" width="2" height="23.0" fill="#fff"/>
<rect x="1554" y="396.3" width="1" height="45.7" fill="#000"/>
<rect x="1552" y="406.1" width="4" height="9.7" fill="#000"/>
<rect x="1558" y="403.6" width="1" height="52.9" fill="#000"/>
<rect x="1556" y="416.5" width="4" height="17.0" fill="#000"/>
<rect x="1562" y="437.1" width="1" height="100.0" fill="#000"/>
<rect x="1560" y="440.0" width="4" height="82.1" fill="#000"/>
<rect x="1566" y="425.5" width="1" height="99.1" fill="#000"/>
<rect x="1564" y="432.3" width="4" height="87.4" fill="#000"/>
<rect x="1565" y="433.3" width="2" height="85.4" fill="#fff"/>
<rect x="1570" y="339.1" width="1" height="87.6" fill="#000"/>
<rect x="1568" y="353.0" width="4" height="73.6" fill="#000"/>
<rect x="1569" y="354.0" width="2" height="71.6" fill="#fff"/>
<rect x="1574" y="332.7" width="1" height="17.8" fill="#000"/>
<rect x="1572" y="342.4" width="4" height="6.3" fill="#000"/>
<rect x="1573" y="343.4" width="2" height="4.3" fill="#fff"/>
<rect x="1578" y="317.5" width="1" height="25.4" fill="#000"/>
<rect x="1576" y="322.6" width="4" height="14.7" fill="#000"/>
<rect x="1577" y="323.6" width="2" height="12.7" fill="#fff"/>
<rect x="1581" y="317.5" width="1" height="10.2" fill="#000"/>
<rect x="1579" y="318.8" width="4" height="5.8" fill="#000"/>
<rect x="1580" y="319.8" width="2" height="3.8" fill="#fff"/>
<rect x="1585" y="312.4" width="1" height="30.5" fill="#000"/>
<rect x="1583" y="318.8" width="4" height="16.5" fill="#000"/>
<rect x="1589" y="302.3" width="1" height="30.5" fill="#000"/>
<rect x="1587" y="316.2" width="4" height="15.2" fill="#000"/>
<rect x="1588" y="317.2" width="2" height="13.2" fill="#fff"/>
<rect x="1593" y="315.0" width="1" height="48.2" fill="#000"/>
<rect x="1591" y="316.2" width="4" height="8.9" fill="#000"/>
<rect x="1592" y="317.2" width="2" height="6.9" fill="#fff"/>
<rect x="1597" y="299.7" width="1" height="15.2" fill="#000"/>
<rect x="1595" y="311.9" width="4" height="1.5" fill="#000"/>
<rect x="1601" y="279.9" width="1" height="42.6" fill="#000"/>
<rect x="1599" y="284.5" width="4" height="25.9" fill="#000"/>
<rect x="1600" y="285.5" width="2" height="23.9" fill="#fff"/>
<rect x="1605" y="283.2" width="1" height="24.1" fill="#000"/>
<rect x="1603" y="287.1" width="4" height="11.4" fill="#000"/>
<rect x="1609" y="283.2" width="1" height="24.1" fill="#000"/>
<rect x="1607" y="298.5" width="4" height="2.5" fill="#000"/>
<rect x="1613" y="292.1" width="1" height="47.7" fill="#000"/>
<rect x="1611" y="293.4" width="4" height="43.1" fill="#000"/>
<rect x="1617" y="276.4" width="1" height="56.9" fill="#000"/>
<rect x="1615" y="280.7" width="4" height="52.5" fill="#000"/>
<rect x="1616" y="281.7" width="2" height="50.5" fill="#fff"/>
<rect x="1620" y="268.8" width="1" height="20.8" fill="#000"/>
<rect x="1618" y="269.3" width="4" height="8.9" fill="#000"/>
<rect x="1619" y="270.3" width="2" height="6.9" fill="#fff"/>
<rect x="1624" y="253.6" width="1" height="15.7" fill="#000"/>
<rect x="1622" y="261.2" width="4" height="1.5" fill="#000"/>
<rect x="1628" y="253.6" width="1" height="38.1" fill="#000"/>
<rect x="1626" y="264.2" width="4" height="22.1" fill="#000"/>
<rect x="1632" y="261.7" width="1" height="20.3" fill="#000"/>
<rect x="1630" y="277.4" width="4" height="3.3" fill="#000"/>
<rect x="1631" y="278.4" width="2" height="1.3" fill="#fff"/>
<rect x="1636" y="223.6" width="1" height="51.3" fill="#000"/>
<rect x="1634" y="227.4" width="4" height="47.0" fill="#000"/>
<rect x="1635" y="228.4" width="2" height="45.0" fill="#fff"/>
<rect x="1640" y="213.5" width="1" height="17.8" fill="#000"/>
<rect x="1638" y="225.1" width="4" height="1.5" fill="#000"/>
<rect x="1644" y="214.7" width="1" height="26.6" fill="#000"/>
<rect x="1642" y="217.3" width="4" height="11.4" fill="#000"/>
<rect x="1643" y="218.3" width="2" height="9.4" fill="#fff"/>
<rect x="1648" y="193.1" width="1" height="23.4" fill="#000"/>
<rect x="1646" y="194.4" width="4" height="21.6" fill="#000"/>
<rect x="1647" y="195.4" width="2" height="19.6" fill="#fff"/>
<rect x="1652" y="182.3" width="1" height="11.0" fill="#000"/>
<rect x="1650" y="184.5" width="4" height="7.7" fill="#000"/>
<rect x="1651" y="185.5" width="2" height="5.7" fill="#fff"/>
<rect x="1655" y="166.9" width="1" height="24.3" fill="#000"/>
<rect x="1653" y="169.1" width="4" height="15.5" fill="#000"/>
<rect x="1654" y="170.1" width="2" height="13.5" fill="#fff"/>
<rect x="1659" y="166.9" width="1" height="29.8" fill="#000"/>
<rect x="1657" y="169.1" width="4" height="5.5" fill="#000"/>
<rect x="1663" y="168.0" width="1" height="17.7" fill="#000"/>
<rect x="1661" y="173.5" width="4" height="11.0" fill="#000"/>
<rect x="1667" y="168.0" width="1" height="33.1" fill="#000"/>
<rect x="1665" y="169.1" width="4" height="15.5" fill="#000"/>
<rect x="1671" y="168.6" width="1" height="50.8" fill="#000"/>
<rect x="1669" y="169.1" width="4" height="3.3" fill="#000"/>
<rect x="1675" y="171.3" width="1" height="37.5" fill="#000"/>
<rect x="1673" y="171.3" width="4" height="2.2" fill="#000"/>
<rect x="1679" y="156.9" width="1" height="16.6" fill="#000"/>
<rect x="1677" y="158.0" width="4" height="14.3" fill="#000"/>
<rect x="1678" y="159.0" width="2" height="12.3" fill="#fff"/>
<rect x="1683" y="150.3" width="1" height="17.7" fill="#000"/>
<rect x="1681" y="153.6" width="4" height="5.5" fill="#000"/>
<rect x="1682" y="154.6" width="2" height="3.5" fill="#fff"/>
<rect x="1687" y="141.5" width="1" height="14.3" fill="#000"/>
<rect x="1685" y="142.6" width="4" height="12.1" fill="#000"/>
<rect x="1686" y="143.6" width="2" height="10.1" fill="#fff"/>
<rect x="1690" y="132.6" width="1" height="24.3" fill="#000"/>
<rect x="1688" y="140.4" width="4" height="14.3" fill="#000"/>
<rect x="1694" y="138.2" width="1" height="25.4" fill="#000"/>
<rect x="1692" y="144.3" width="4" height="11.5" fill="#000"/>
<rect x="1693" y="145.3" width="2" height="9.5" fill="#fff"/>
<rect x="1698" y="142.6" width="1" height="19.9" fill="#000"/>
<rect x="1696" y="143.7" width="4" height="9.9" fill="#000"/>
<rect x="1702" y="150.3" width="1" height="38.2" fill="#000"/>
<rect x="1700" y="154.7" width="4" height="4.4" fill="#000"/>
<rect x="1706" y="158.0" width="1" height="11.0" fill="#000"/>
<rect x="1704" y="159.1" width="4" height="8.8" fill="#000"/>
<rect x="1710" y="147.0" width="1" height="58.5" fill="#000"/>
<rect x="1708" y="148.1" width="4" height="25.4" fill="#000"/>
<rect x="1709" y="149.1" width="2" height="23.4" fill="#fff"/>
<rect x="1714" y="142.6" width="1" height="18.8" fill="#000"/>
<rect x="1712" y="149.2" width="4" height="3.3" fill="#000"/>
<rect x="1718" y="127.1" width="1" height="25.4" fill="#000"/>
<rect x="1716" y="129.3" width="4" height="22.1" fill="#000"/>
<rect x="1717" y="130.3" width="2" height="20.1" fill="#fff"/>
<rect x="1722" y="111.2" width="1" height="19.2" fill="#000"/>
<rect x="1720" y="114.5" width="4" height="14.8" fill="#000"/>
<rect x="1721" y="115.5" width="2" height="12.8" fill="#fff"/>
<rect x="1725" y="116.1" width="1" height="38.6" fill="#000"/>
<rect x="1723" y="117.2" width="4" height="19.9" fill="#000"/>
<rect x="1729" y="123.8" width="1" height="14.3" fill="#000"/>
<rect x="1727" y="124.9" width="4" height="8.8" fill="#000"/>
<rect x="1728" y="125.9" width="2" height="6.8" fill="#fff"/>
<rect x="1733" y="108.4" width="1" height="22.1" fill="#000"/>
<rect x="1731" y="120.5" width="4" height="8.8" fill="#000"/>
<rect x="1737" y="107.3" width="1" height="28.7" fill="#000"/>
<rect x="1735" y="121.6" width="4" height="7.7" fill="#000"/>
<rect x="1741" y="119.4" width="1" height="25.4" fill="#000"/>
<rect x="1739" y="129.3" width="4" height="11.0" fill="#000"/>
<rect x="1745" y="120.9" width="1" height="53.6" fill="#000"/>
<rect x="1743" y="134.9" width="4" height="14.3" fill="#000"/>
<rect x="1744" y="135.9" width="2" height="12.3" fill="#fff"/>
<rect x="1749" y="123.8" width="1" height="58.5" fill="#000"/>
<rect x="1747" y="132.0" width="4" height="34.9" fill="#000"/>
<rect x="1753" y="149.2" width="1" height="38.6" fill="#000"/>
<rect x="1751" y="157.6" width="4" height="13.7" fill="#000"/>
<rect x="1752" y="158.6" width="2" height="11.7" fill="#fff"/>
<rect x="1757" y="126.0" width="1" height="46.4" fill="#000"/>
<rect x="1755" y="127.1" width="4" height="30.9" fill="#000"/>
<rect x="1756" y="128.1" width="2" height="28.9" fill="#fff"/>
<rect x="1761" y="120.5" width="1" height="8.8" fill="#000"/>
<rect x="1759" y="125.4" width="4" height="2.9" fill="#000"/>
<rect x="1764" y="108.4" width="1" height="17.7" fill="#000"/>
<rect x="1762" y="109.5" width="4" height="15.5" fill="#000"/>
<rect x="1763" y="110.5" width="2" height="13.5" fill="#fff"/>
<rect x="1768" y="77.5" width="1" height="30.2" fill="#000"/>
<rect x="1766" y="78.6" width="4" height="28.7" fill="#000"/>
<rect x="1767" y="79.6" width="2" height="26.7" fill="#fff"/>
<rect x="1772" y="75.3" width="1" height="11.0" fill="#000"/>
<rect x="1770" y="76.8" width="4" height="2.9" fill="#000"/>
<rect x="1776" y="64.9" width="1" height="21.4" fill="#000"/>
<rect x="1774" y="78.3" width="4" height="1.5" fill="#000"/>
<rect x="1780" y="77.5" width="1" height="76.2" fill="#000"/>
<rect x="1778" y="79.0" width="4" height="73.5" fill="#000"/>
<rect x="1784" y="124.9" width="1" height="44.6" fill="#000"/>
<rect x="1782" y="144.8" width="4" height="9.9" fill="#000"/>
<rect x="1788" y="98.4" width="1" height="57.4" fill="#000"/>
<rect x="1786" y="123.8" width="4" height="27.6" fill="#000"/>
<rect x="1787" y="124.8" width="2" height="25.6" fill="#fff"/>
<rect x="1792" y="112.8" width="1" height="23.2" fill="#000"/>
<rect x="1790" y="119.4" width="4" height="13.2" fill="#000"/>
<rect x="1796" y="106.2" width="1" height="58.5" fill="#000"/>
<rect x="1794" y="107.3" width="4" height="32.0" fill="#000"/>
<rect x="1795" y="108.3" width="2" height="30.0" fill="#fff"/>
<rect x="1799" y="89.6" width="1" height="21.0" fill="#000"/>
<rect x="1797" y="96.2" width="4" height="13.7" fill="#000"/>
<rect x="1798" y="97.2" width="2" height="11.7" fill="#fff"/>
<rect x="1803" y="69.7" width="1" height="33.1" fill="#000"/>
<rect x="1801" y="92.9" width="4" height="3.3" fill="#000"/>
<rect x="1807" y="86.3" width="1" height="27.6" fill="#000"/>
<rect x="1805" y="91.8" width="4" height="11.0" fill="#000"/>
<rect x="1811" y="92.9" width="1" height="30.9" fill="#000"/>
<rect x="1809" y="100.6" width="4" height="13.2" fill="#000"/>
<rect x="1815" y="116.1" width="1" height="51.9" fill="#000"/>
<rect x="1813" y="118.3" width="4" height="21.0" fill="#000"/>
<rect x="1819" y="106.2" width="1" height="53.0" fill="#000"/>
<rect x="1817" y="132.6" width="4" height="21.0" fill="#000"/>
</g>
<ellipse cx="1778" cy="72.4" rx="16.6" ry="22" fill="none" stroke="#009000" stroke-width="1"/>
<ellipse cx="1805.6" cy="83.4" rx="17.2" ry="22" fill="none" stroke="#009000" stroke-width="1"/>
<text x="1775.6" y="44" font-size="18" fill="#009000" text-anchor="start" textLength="37.8" lengthAdjust="spacingAndGlyphs" >DOJI</text>
<text x="1003.4" y="24.9" font-size="20.3" fill="#000" text-anchor="start" textLength="136.8" lengthAdjust="spacingAndGlyphs" >RIC: .STOX50E</text>
<text x="1003.4" y="54" font-size="20.3" fill="#000" text-anchor="start" textLength="203.7" lengthAdjust="spacingAndGlyphs" >EXCHANGE: EUROPE</text>
<text x="1003.4" y="83" font-size="20.3" fill="#000" text-anchor="start" textLength="217.2" lengthAdjust="spacingAndGlyphs" >EUROSTOXX 50 INDEX</text>
<text x="1003.4" y="111.9" font-size="20.3" fill="#000" text-anchor="start" textLength="144.7" lengthAdjust="spacingAndGlyphs" >WEEKLY SCALE</text>
<text x="1521.5" y="223.7" font-size="17.2" fill="#0000ff" text-anchor="start" textLength="44.4" lengthAdjust="spacingAndGlyphs" >3,850</text>
<text x="1525.2" y="269.8" font-size="17.2" fill="#009000" text-anchor="start" textLength="44.3" lengthAdjust="spacingAndGlyphs" >3,700</text>
<text x="1627.6" y="370.9" font-size="17.2" fill="#0000ff" text-anchor="start" textLength="44.3" lengthAdjust="spacingAndGlyphs" >3,400</text>
<text x="1623.6" y="497.6" font-size="17.2" fill="#0000ff" text-anchor="start" textLength="43.8" lengthAdjust="spacingAndGlyphs" >3,065</text>
<text x="1561.4" y="653" font-size="17.2" fill="#009000" text-anchor="start" textLength="44" lengthAdjust="spacingAndGlyphs" >2,665</text>
<g shape-rendering="crispEdges">
<rect x="1923" y="0" width="1" height="870" fill="#000" />
<rect x="1924" y="862" width="7" height="1" fill="#000" />
<rect x="1924" y="837" width="3" height="1" fill="#000" />
<rect x="1924" y="811" width="7" height="1" fill="#000" />
<rect x="1924" y="787" width="3" height="1" fill="#000" />
<rect x="1924" y="763" width="7" height="1" fill="#000" />
<rect x="1924" y="739" width="3" height="1" fill="#000" />
<rect x="1924" y="716" width="7" height="1" fill="#000" />
<rect x="1924" y="693" width="3" height="1" fill="#000" />
<rect x="1924" y="671" width="7" height="1" fill="#000" />
<rect x="1924" y="649" width="3" height="1" fill="#000" />
<rect x="1924" y="628" width="7" height="1" fill="#000" />
<rect x="1924" y="607" width="3" height="1" fill="#000" />
<rect x="1924" y="586" width="7" height="1" fill="#000" />
<rect x="1924" y="566" width="3" height="1" fill="#000" />
<rect x="1924" y="546" width="7" height="1" fill="#000" />
<rect x="1924" y="526" width="3" height="1" fill="#000" />
<rect x="1924" y="507" width="7" height="1" fill="#000" />
<rect x="1924" y="488" width="3" height="1" fill="#000" />
<rect x="1924" y="470" width="7" height="1" fill="#000" />
<rect x="1924" y="451" width="3" height="1" fill="#000" />
<rect x="1924" y="433" width="7" height="1" fill="#000" />
<rect x="1924" y="416" width="3" height="1" fill="#000" />
<rect x="1924" y="398" width="7" height="1" fill="#000" />
<rect x="1924" y="381" width="3" height="1" fill="#000" />
<rect x="1924" y="364" width="7" height="1" fill="#000" />
<rect x="1924" y="347" width="3" height="1" fill="#000" />
<rect x="1924" y="331" width="7" height="1" fill="#000" />
<rect x="1924" y="315" width="3" height="1" fill="#000" />
<rect x="1924" y="299" width="7" height="1" fill="#000" />
<rect x="1924" y="283" width="3" height="1" fill="#000" />
<rect x="1924" y="267" width="7" height="1" fill="#000" />
<rect x="1924" y="252" width="3" height="1" fill="#000" />
<rect x="1924" y="237" width="7" height="1" fill="#000" />
<rect x="1924" y="222" width="3" height="1" fill="#000" />
<rect x="1924" y="207" width="7" height="1" fill="#000" />
<rect x="1924" y="192" width="3" height="1" fill="#000" />
<rect x="1924" y="178" width="7" height="1" fill="#000" />
<rect x="1924" y="164" width="3" height="1" fill="#000" />
<rect x="1924" y="150" width="7" height="1" fill="#000" />
<rect x="1924" y="136" width="3" height="1" fill="#000" />
<rect x="1924" y="122" width="7" height="1" fill="#000" />
<rect x="1924" y="108" width="3" height="1" fill="#000" />
<rect x="1924" y="95" width="7" height="1" fill="#000" />
<rect x="1924" y="82" width="3" height="1" fill="#000" />
<rect x="1924" y="69" width="7" height="1" fill="#000" />
<rect x="1924" y="56" width="3" height="1" fill="#000" />
<rect x="1924" y="43" width="7" height="1" fill="#000" />
<rect x="1924" y="30" width="3" height="1" fill="#000" />
<rect x="1924" y="18" width="7" height="1" fill="#000" />
<rect x="1924" y="6" width="3" height="1" fill="#000" />
</g>
<text x="1934" y="821.715" font-size="20" fill="#000" text-anchor="start" textLength="34.8" lengthAdjust="spacingAndGlyphs" >230</text>
<text x="1934" y="772.993" font-size="20" fill="#000" text-anchor="start" textLength="34.8" lengthAdjust="spacingAndGlyphs" >240</text>
<text x="1934" y="726.26" font-size="20" fill="#000" text-anchor="start" textLength="34.8" lengthAdjust="spacingAndGlyphs" >250</text>
<text x="1934" y="681.36" font-size="20" fill="#000" text-anchor="start" textLength="34.8" lengthAdjust="spacingAndGlyphs" >260</text>
<text x="1934" y="638.155" font-size="20" fill="#000" text-anchor="start" textLength="34.8" lengthAdjust="spacingAndGlyphs" >270</text>
<text x="1934" y="596.521" font-size="20" fill="#000" text-anchor="start" textLength="34.8" lengthAdjust="spacingAndGlyphs" >280</text>
<text x="1934" y="556.348" font-size="20" fill="#000" text-anchor="start" textLength="34.8" lengthAdjust="spacingAndGlyphs" >290</text>
<text x="1934" y="517.538" font-size="20" fill="#000" text-anchor="start" textLength="34.8" lengthAdjust="spacingAndGlyphs" >300</text>
<text x="1934" y="480" font-size="20" fill="#000" text-anchor="start" textLength="34.8" lengthAdjust="spacingAndGlyphs" >310</text>
<text x="1934" y="443.654" font-size="20" fill="#000" text-anchor="start" textLength="34.8" lengthAdjust="spacingAndGlyphs" >320</text>
<text x="1934" y="408.427" font-size="20" fill="#000" text-anchor="start" textLength="34.8" lengthAdjust="spacingAndGlyphs" >330</text>
<text x="1934" y="374.251" font-size="20" fill="#000" text-anchor="start" textLength="34.8" lengthAdjust="spacingAndGlyphs" >340</text>
<text x="1934" y="341.066" font-size="20" fill="#000" text-anchor="start" textLength="34.8" lengthAdjust="spacingAndGlyphs" >350</text>
<text x="1934" y="308.816" font-size="20" fill="#000" text-anchor="start" textLength="34.8" lengthAdjust="spacingAndGlyphs" >360</text>
<text x="1934" y="277.45" font-size="20" fill="#000" text-anchor="start" textLength="34.8" lengthAdjust="spacingAndGlyphs" >370</text>
<text x="1934" y="246.92" font-size="20" fill="#000" text-anchor="start" textLength="34.8" lengthAdjust="spacingAndGlyphs" >380</text>
<text x="1934" y="217.183" font-size="20" fill="#000" text-anchor="start" textLength="34.8" lengthAdjust="spacingAndGlyphs" >390</text>
<text x="1934" y="188.199" font-size="20" fill="#000" text-anchor="start" textLength="34.8" lengthAdjust="spacingAndGlyphs" >400</text>
<text x="1934" y="159.931" font-size="20" fill="#000" text-anchor="start" textLength="34.8" lengthAdjust="spacingAndGlyphs" >410</text>
<text x="1934" y="132.344" font-size="20" fill="#000" text-anchor="start" textLength="34.8" lengthAdjust="spacingAndGlyphs" >420</text>
<text x="1934" y="105.407" font-size="20" fill="#000" text-anchor="start" textLength="34.8" lengthAdjust="spacingAndGlyphs" >430</text>
<text x="1934" y="79.0884" font-size="20" fill="#000" text-anchor="start" textLength="34.8" lengthAdjust="spacingAndGlyphs" >440</text>
<text x="1934" y="53.3615" font-size="20" fill="#000" text-anchor="start" textLength="34.8" lengthAdjust="spacingAndGlyphs" >450</text>
<text x="1934" y="28.2" font-size="20" fill="#000" text-anchor="start" textLength="34.8" lengthAdjust="spacingAndGlyphs" >460</text>
<rect x="1928" y="139" width="45" height="29.7" fill="#003f7f" />
<text x="1929.2" y="161.9" font-size="21" fill="#fff" text-anchor="start" textLength="47.5" lengthAdjust="spacingAndGlyphs" >4086</text>
<rect x="1925.5" y="844.5" width="29" height="23" fill="#fff" stroke="#000" stroke-width="1" shape-rendering="crispEdges"/>
<text x="1927" y="861.9" font-size="14.6" fill="#000" text-anchor="start" textLength="26" lengthAdjust="spacingAndGlyphs" >x10</text>
<g shape-rendering="crispEdges">
<rect x="989" y="869" width="935" height="1" fill="#000" />
<rect x="990" y="869" width="1" height="37" fill="#000" />
<rect x="1194" y="869" width="1" height="37" fill="#000" />
<rect x="1396" y="869" width="1" height="37" fill="#000" />
<rect x="1597" y="869" width="1" height="37" fill="#000" />
<rect x="1804" y="869" width="1" height="37" fill="#000" />
<rect x="1006" y="869" width="1" height="10" fill="#000" />
<rect x="1022" y="869" width="1" height="10" fill="#000" />
<rect x="1041" y="869" width="1" height="10" fill="#000" />
<rect x="1056" y="869" width="1" height="10" fill="#000" />
<rect x="1072" y="869" width="1" height="10" fill="#000" />
<rect x="1092" y="869" width="1" height="10" fill="#000" />
<rect x="1108" y="869" width="1" height="10" fill="#000" />
<rect x="1126" y="869" width="1" height="10" fill="#000" />
<rect x="1142" y="869" width="1" height="10" fill="#000" />
<rect x="1159" y="869" width="1" height="10" fill="#000" />
<rect x="1178" y="869" width="1" height="10" fill="#000" />
<rect x="1209" y="869" width="1" height="10" fill="#000" />
<rect x="1225" y="869" width="1" height="10" fill="#000" />
<rect x="1244" y="869" width="1" height="10" fill="#000" />
<rect x="1260" y="869" width="1" height="10" fill="#000" />
<rect x="1278" y="869" width="1" height="10" fill="#000" />
<rect x="1294" y="869" width="1" height="10" fill="#000" />
<rect x="1309" y="869" width="1" height="10" fill="#000" />
<rect x="1330" y="869" width="1" height="10" fill="#000" />
<rect x="1345" y="869" width="1" height="10" fill="#000" />
<rect x="1360" y="869" width="1" height="10" fill="#000" />
<rect x="1380" y="869" width="1" height="10" fill="#000" />
<rect x="1415" y="869" width="1" height="10" fill="#000" />
<rect x="1431" y="869" width="1" height="10" fill="#000" />
<rect x="1446" y="869" width="1" height="10" fill="#000" />
<rect x="1462" y="869" width="1" height="10" fill="#000" />
<rect x="1482" y="869" width="1" height="10" fill="#000" />
<rect x="1497" y="869" width="1" height="10" fill="#000" />
<rect x="1517" y="869" width="1" height="10" fill="#000" />
<rect x="1532" y="869" width="1" height="10" fill="#000" />
<rect x="1548" y="869" width="1" height="10" fill="#000" />
<rect x="1567" y="869" width="1" height="10" fill="#000" />
<rect x="1582" y="869" width="1" height="10" fill="#000" />
<rect x="1617" y="869" width="1" height="10" fill="#000" />
<rect x="1632" y="869" width="1" height="10" fill="#000" />
<rect x="1648" y="869" width="1" height="10" fill="#000" />
<rect x="1668" y="869" width="1" height="10" fill="#000" />
<rect x="1683" y="869" width="1" height="10" fill="#000" />
<rect x="1700" y="869" width="1" height="10" fill="#000" />
<rect x="1718" y="869" width="1" height="10" fill="#000" />
<rect x="1734" y="869" width="1" height="10" fill="#000" />
<rect x="1750" y="869" width="1" height="10" fill="#000" />
<rect x="1770" y="869" width="1" height="10" fill="#000" />
<rect x="1785" y="869" width="1" height="10" fill="#000" />
<rect x="1820" y="869" width="1" height="10" fill="#000" />
<rect x="1835" y="869" width="1" height="10" fill="#000" />
<rect x="1851" y="869" width="1" height="10" fill="#000" />
<rect x="1870" y="869" width="1" height="10" fill="#000" />
<rect x="1886" y="869" width="1" height="10" fill="#000" />
<rect x="1902" y="869" width="1" height="10" fill="#000" />
<rect x="1920" y="869" width="1" height="10" fill="#000" />
</g>
<text x="992.1" y="901" font-size="20.3" fill="#000" text-anchor="start" textLength="47.5" lengthAdjust="spacingAndGlyphs" >2018</text>
<text x="1195.6" y="901" font-size="20.3" fill="#000" text-anchor="start" textLength="47.5" lengthAdjust="spacingAndGlyphs" >2019</text>
<text x="1397.6" y="901" font-size="20.3" fill="#000" text-anchor="start" textLength="47.5" lengthAdjust="spacingAndGlyphs" >2020</text>
<text x="1599.4" y="901" font-size="20.3" fill="#000" text-anchor="start" textLength="47.5" lengthAdjust="spacingAndGlyphs" >2021</text>
<text x="1806.5" y="901" font-size="20.3" fill="#000" text-anchor="start" textLength="47.5" lengthAdjust="spacingAndGlyphs" >2022</text>
<rect x="1924" y="870" width="49" height="36" fill="#e8e8e8" />
<rect x="1923" y="869" width="50" height="1" fill="#808080" />
<rect x="1923" y="869" width="1" height="37" fill="#808080" />
</svg>
</body></html>
